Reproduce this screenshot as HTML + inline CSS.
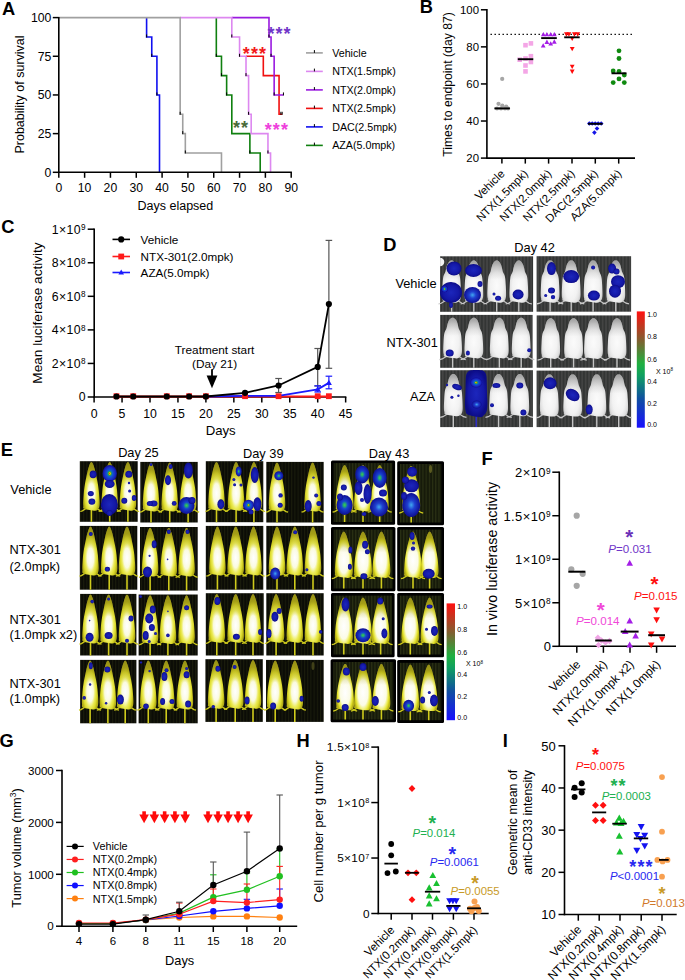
<!DOCTYPE html>
<html><head><meta charset="utf-8"><style>
html,body{margin:0;padding:0;background:#fff;}
svg{display:block;}
text{font-family:"Liberation Sans", sans-serif;}
</style></head><body>
<svg width="685" height="980" viewBox="0 0 685 980">
<rect x="0" y="0" width="685" height="980" fill="#fff"/>
<text x="2.1" y="14.7" font-size="18.3" text-anchor="start" fill="#000" font-weight="bold">A</text>
<polyline points="246.01,56.27 263.31,56.27 263.31,56.27 263.31,56.27 263.31,75.61 279.06,75.61 279.06,75.61 279.06,75.61 279.06,114.29 282.16,114.29 282.16,114.29" fill="none" stroke="#f01010" stroke-width="1.6"/>
<polyline points="231.81,17.60 268.99,17.60 268.99,17.60 268.99,17.60 268.99,36.94 271.06,36.94 271.06,36.94 271.06,36.94 271.06,56.27 274.16,56.27 274.16,56.27 274.16,56.27 274.16,94.95 283.45,94.95 283.45,94.95" fill="none" stroke="#9a1ae0" stroke-width="1.6"/>
<polyline points="216.32,17.60 216.32,17.60 216.32,17.60 216.32,17.60 216.32,56.27 221.48,56.27 221.48,56.27 221.48,56.27 221.48,75.61 226.64,75.61 226.64,75.61 226.64,75.61 226.64,94.95 231.81,94.95 231.81,94.95 231.81,94.95 231.81,133.62 249.88,133.62 249.88,133.62 249.88,133.62 249.88,152.96 260.21,152.96 260.21,152.96 260.21,152.96 260.21,172.30" fill="none" stroke="#108010" stroke-width="1.6"/>
<polyline points="180.16,17.60 231.81,17.60 231.81,17.60 231.81,17.60 231.81,36.94 239.56,36.94 239.56,36.94 239.56,36.94 239.56,56.27 246.01,56.27 246.01,56.27 246.01,56.27 246.01,75.61 248.59,75.61 248.59,75.61 248.59,75.61 248.59,114.29 251.18,114.29 251.18,114.29 251.18,114.29 251.18,133.62 267.96,133.62 267.96,133.62 267.96,133.62 267.96,152.96 270.54,152.96 270.54,152.96 270.54,152.96 270.54,172.30" fill="none" stroke="#dd88f0" stroke-width="1.6"/>
<polyline points="146.60,17.60 146.60,17.60 146.60,17.60 146.60,17.60 146.60,36.94 151.76,36.94 151.76,36.94 151.76,36.94 151.76,56.27 156.92,56.27 156.92,56.27 156.92,56.27 156.92,94.95 159.51,94.95 159.51,94.95 159.51,94.95 159.51,172.30" fill="none" stroke="#1010f0" stroke-width="1.6"/>
<polyline points="58.80,17.60 180.16,17.60 180.16,17.60 180.16,17.60 180.16,114.29 182.75,114.29 182.75,114.29 182.75,114.29 182.75,133.62 185.33,133.62 185.33,133.62 185.33,133.62 185.33,152.96 221.48,152.96 221.48,152.96 221.48,152.96 221.48,172.30" fill="none" stroke="#a0a0a0" stroke-width="1.6"/>
<line x1="180.16" y1="111.79" x2="180.16" y2="114.79" stroke="#000" stroke-width="1.0"/>
<line x1="182.75" y1="131.12" x2="182.75" y2="134.12" stroke="#000" stroke-width="1.0"/>
<line x1="185.33" y1="150.46" x2="185.33" y2="153.46" stroke="#000" stroke-width="1.0"/>
<line x1="146.60" y1="34.44" x2="146.60" y2="37.44" stroke="#000" stroke-width="1.0"/>
<line x1="151.76" y1="53.77" x2="151.76" y2="56.77" stroke="#000" stroke-width="1.0"/>
<line x1="156.92" y1="92.45" x2="156.92" y2="95.45" stroke="#000" stroke-width="1.0"/>
<line x1="216.32" y1="53.77" x2="216.32" y2="56.77" stroke="#000" stroke-width="1.0"/>
<line x1="221.48" y1="73.11" x2="221.48" y2="76.11" stroke="#000" stroke-width="1.0"/>
<line x1="226.64" y1="92.45" x2="226.64" y2="95.45" stroke="#000" stroke-width="1.0"/>
<line x1="249.88" y1="150.46" x2="249.88" y2="153.46" stroke="#000" stroke-width="1.0"/>
<line x1="231.81" y1="34.44" x2="231.81" y2="37.44" stroke="#000" stroke-width="1.0"/>
<line x1="239.56" y1="53.77" x2="239.56" y2="56.77" stroke="#000" stroke-width="1.0"/>
<line x1="246.01" y1="73.11" x2="246.01" y2="76.11" stroke="#000" stroke-width="1.0"/>
<line x1="248.59" y1="111.79" x2="248.59" y2="114.79" stroke="#000" stroke-width="1.0"/>
<line x1="267.96" y1="150.46" x2="267.96" y2="153.46" stroke="#000" stroke-width="1.0"/>
<line x1="268.99" y1="34.44" x2="268.99" y2="37.44" stroke="#000" stroke-width="1.0"/>
<line x1="271.06" y1="53.77" x2="271.06" y2="56.77" stroke="#000" stroke-width="1.0"/>
<line x1="274.16" y1="92.45" x2="274.16" y2="95.45" stroke="#000" stroke-width="1.0"/>
<line x1="283.45" y1="92.45" x2="283.45" y2="95.45" stroke="#000" stroke-width="1.0"/>
<line x1="282.16" y1="111.79" x2="282.16" y2="114.79" stroke="#000" stroke-width="1.0"/>
<line x1="280.87" y1="111.79" x2="280.87" y2="114.79" stroke="#000" stroke-width="1.0"/>
<line x1="58.80" y1="16.90" x2="58.80" y2="173.00" stroke="#000" stroke-width="1.6"/>
<line x1="58.10" y1="172.30" x2="291.90" y2="172.30" stroke="#000" stroke-width="1.6"/>
<line x1="52.80" y1="172.30" x2="58.80" y2="172.30" stroke="#000" stroke-width="1.5"/>
<text x="51.3" y="176.7" font-size="12.2" text-anchor="end" fill="#000">0</text>
<line x1="52.80" y1="133.62" x2="58.80" y2="133.62" stroke="#000" stroke-width="1.5"/>
<text x="51.3" y="138.0" font-size="12.2" text-anchor="end" fill="#000">25</text>
<line x1="52.80" y1="94.95" x2="58.80" y2="94.95" stroke="#000" stroke-width="1.5"/>
<text x="51.3" y="99.4" font-size="12.2" text-anchor="end" fill="#000">50</text>
<line x1="52.80" y1="56.27" x2="58.80" y2="56.27" stroke="#000" stroke-width="1.5"/>
<text x="51.3" y="60.7" font-size="12.2" text-anchor="end" fill="#000">75</text>
<line x1="52.80" y1="17.60" x2="58.80" y2="17.60" stroke="#000" stroke-width="1.5"/>
<text x="51.3" y="22.0" font-size="12.2" text-anchor="end" fill="#000">100</text>
<line x1="58.80" y1="172.30" x2="58.80" y2="177.80" stroke="#000" stroke-width="1.5"/>
<text x="58.8" y="191.9" font-size="12.2" text-anchor="middle" fill="#000">0</text>
<line x1="84.62" y1="172.30" x2="84.62" y2="177.80" stroke="#000" stroke-width="1.5"/>
<text x="84.6" y="191.9" font-size="12.2" text-anchor="middle" fill="#000">10</text>
<line x1="110.44" y1="172.30" x2="110.44" y2="177.80" stroke="#000" stroke-width="1.5"/>
<text x="110.4" y="191.9" font-size="12.2" text-anchor="middle" fill="#000">20</text>
<line x1="136.27" y1="172.30" x2="136.27" y2="177.80" stroke="#000" stroke-width="1.5"/>
<text x="136.3" y="191.9" font-size="12.2" text-anchor="middle" fill="#000">30</text>
<line x1="162.09" y1="172.30" x2="162.09" y2="177.80" stroke="#000" stroke-width="1.5"/>
<text x="162.1" y="191.9" font-size="12.2" text-anchor="middle" fill="#000">40</text>
<line x1="187.91" y1="172.30" x2="187.91" y2="177.80" stroke="#000" stroke-width="1.5"/>
<text x="187.9" y="191.9" font-size="12.2" text-anchor="middle" fill="#000">50</text>
<line x1="213.73" y1="172.30" x2="213.73" y2="177.80" stroke="#000" stroke-width="1.5"/>
<text x="213.7" y="191.9" font-size="12.2" text-anchor="middle" fill="#000">60</text>
<line x1="239.56" y1="172.30" x2="239.56" y2="177.80" stroke="#000" stroke-width="1.5"/>
<text x="239.6" y="191.9" font-size="12.2" text-anchor="middle" fill="#000">70</text>
<line x1="265.38" y1="172.30" x2="265.38" y2="177.80" stroke="#000" stroke-width="1.5"/>
<text x="265.4" y="191.9" font-size="12.2" text-anchor="middle" fill="#000">80</text>
<line x1="291.20" y1="172.30" x2="291.20" y2="177.80" stroke="#000" stroke-width="1.5"/>
<text x="291.2" y="191.9" font-size="12.2" text-anchor="middle" fill="#000">90</text>
<text x="175.4" y="210.2" font-size="12.5" text-anchor="middle" fill="#000">Days elapsed</text>
<text x="23.5" y="94.5" font-size="12.5" text-anchor="middle" fill="#000" transform="rotate(-90 23.5 94.5)">Probability of survival</text>
<text x="267.4" y="39.8" font-size="18" text-anchor="start" fill="#7036c8" font-weight="bold" letter-spacing="1.1">***</text>
<text x="242.8" y="60.0" font-size="18" text-anchor="start" fill="#f21a1a" font-weight="bold" letter-spacing="1.1">***</text>
<text x="233.0" y="134.3" font-size="18" text-anchor="start" fill="#4a6a3a" font-weight="bold" letter-spacing="1.1">**</text>
<text x="264.7" y="135.5" font-size="18" text-anchor="start" fill="#ee40dc" font-weight="bold" letter-spacing="1.1">***</text>
<line x1="306.00" y1="52.90" x2="322.80" y2="52.90" stroke="#a0a0a0" stroke-width="1.6"/>
<line x1="314.40" y1="50.10" x2="314.40" y2="52.90" stroke="#000" stroke-width="1.0"/>
<text x="332.2" y="56.7" font-size="10.7" text-anchor="start" fill="#000">Vehicle</text>
<line x1="306.00" y1="71.40" x2="322.80" y2="71.40" stroke="#dd88f0" stroke-width="1.6"/>
<line x1="314.40" y1="68.60" x2="314.40" y2="71.40" stroke="#000" stroke-width="1.0"/>
<text x="332.2" y="75.2" font-size="10.7" text-anchor="start" fill="#000">NTX(1.5mpk)</text>
<line x1="306.00" y1="89.90" x2="322.80" y2="89.90" stroke="#9a1ae0" stroke-width="1.6"/>
<line x1="314.40" y1="87.10" x2="314.40" y2="89.90" stroke="#000" stroke-width="1.0"/>
<text x="332.2" y="93.7" font-size="10.7" text-anchor="start" fill="#000">NTX(2.0mpk)</text>
<line x1="306.00" y1="108.40" x2="322.80" y2="108.40" stroke="#f01010" stroke-width="1.6"/>
<line x1="314.40" y1="105.60" x2="314.40" y2="108.40" stroke="#000" stroke-width="1.0"/>
<text x="332.2" y="112.2" font-size="10.7" text-anchor="start" fill="#000">NTX(2.5mpk)</text>
<line x1="306.00" y1="126.90" x2="322.80" y2="126.90" stroke="#1010f0" stroke-width="1.6"/>
<line x1="314.40" y1="124.10" x2="314.40" y2="126.90" stroke="#000" stroke-width="1.0"/>
<text x="332.2" y="130.7" font-size="10.7" text-anchor="start" fill="#000">DAC(2.5mpk)</text>
<line x1="306.00" y1="145.40" x2="322.80" y2="145.40" stroke="#108010" stroke-width="1.6"/>
<line x1="314.40" y1="142.60" x2="314.40" y2="145.40" stroke="#000" stroke-width="1.0"/>
<text x="332.2" y="149.2" font-size="10.7" text-anchor="start" fill="#000">AZA(5.0mpk)</text>
<text x="419.7" y="12.7" font-size="18.3" text-anchor="start" fill="#000" font-weight="bold">B</text>
<line x1="486.90" y1="9.08" x2="486.90" y2="158.80" stroke="#000" stroke-width="1.6"/>
<line x1="486.20" y1="158.10" x2="635.00" y2="158.10" stroke="#000" stroke-width="1.6"/>
<line x1="480.90" y1="158.10" x2="486.90" y2="158.10" stroke="#000" stroke-width="1.5"/>
<text x="479.0" y="162.1" font-size="11.4" text-anchor="end" fill="#000">20</text>
<line x1="480.90" y1="121.02" x2="486.90" y2="121.02" stroke="#000" stroke-width="1.5"/>
<text x="479.0" y="125.0" font-size="11.4" text-anchor="end" fill="#000">40</text>
<line x1="480.90" y1="83.94" x2="486.90" y2="83.94" stroke="#000" stroke-width="1.5"/>
<text x="479.0" y="87.9" font-size="11.4" text-anchor="end" fill="#000">60</text>
<line x1="480.90" y1="46.86" x2="486.90" y2="46.86" stroke="#000" stroke-width="1.5"/>
<text x="479.0" y="50.9" font-size="11.4" text-anchor="end" fill="#000">80</text>
<line x1="480.90" y1="9.78" x2="486.90" y2="9.78" stroke="#000" stroke-width="1.5"/>
<text x="479.0" y="13.8" font-size="11.4" text-anchor="end" fill="#000">100</text>
<line x1="501.90" y1="158.10" x2="501.90" y2="163.60" stroke="#000" stroke-width="1.5"/>
<text x="505.4" y="174.4" font-size="11.4" text-anchor="end" fill="#000" transform="rotate(-45 505.4 174.4)">Vehicle</text>
<line x1="525.30" y1="158.10" x2="525.30" y2="163.60" stroke="#000" stroke-width="1.5"/>
<text x="528.8" y="174.4" font-size="11.4" text-anchor="end" fill="#000" transform="rotate(-45 528.8 174.4)">NTX(1.5mpk)</text>
<line x1="548.60" y1="158.10" x2="548.60" y2="163.60" stroke="#000" stroke-width="1.5"/>
<text x="552.1" y="174.4" font-size="11.4" text-anchor="end" fill="#000" transform="rotate(-45 552.1 174.4)">NTX(2.0mpk)</text>
<line x1="572.00" y1="158.10" x2="572.00" y2="163.60" stroke="#000" stroke-width="1.5"/>
<text x="575.5" y="174.4" font-size="11.4" text-anchor="end" fill="#000" transform="rotate(-45 575.5 174.4)">NTX(2.5mpk)</text>
<line x1="595.30" y1="158.10" x2="595.30" y2="163.60" stroke="#000" stroke-width="1.5"/>
<text x="598.8" y="174.4" font-size="11.4" text-anchor="end" fill="#000" transform="rotate(-45 598.8 174.4)">DAC(2.5mpk)</text>
<line x1="618.70" y1="158.10" x2="618.70" y2="163.60" stroke="#000" stroke-width="1.5"/>
<text x="622.2" y="174.4" font-size="11.4" text-anchor="end" fill="#000" transform="rotate(-45 622.2 174.4)">AZA(5.0mpk)</text>
<line x1="490.50" y1="34.30" x2="634.20" y2="34.30" stroke="#000" stroke-width="1.3" stroke-dasharray="1.4,2.6"/>
<text x="452.3" y="84.5" font-size="12.2" text-anchor="middle" fill="#000" transform="rotate(-90 452.3 84.5)">Times to endpoint (day 87)</text>
<circle cx="502.20" cy="78.90" r="2.1" fill="#a6a6a6"/>
<circle cx="498.50" cy="103.80" r="2.1" fill="#a6a6a6"/>
<circle cx="502.30" cy="105.50" r="2.1" fill="#a6a6a6"/>
<circle cx="506.20" cy="106.60" r="2.1" fill="#a6a6a6"/>
<circle cx="497.00" cy="108.50" r="2.1" fill="#a6a6a6"/>
<circle cx="501.00" cy="108.50" r="2.1" fill="#a6a6a6"/>
<circle cx="505.00" cy="108.50" r="2.1" fill="#a6a6a6"/>
<circle cx="508.00" cy="108.50" r="2.1" fill="#a6a6a6"/>
<line x1="494.40" y1="108.40" x2="509.90" y2="108.40" stroke="#000" stroke-width="1.9"/>
<rect x="523.20" y="42.90" width="4.60" height="4.60" fill="#f4a6e6"/>
<rect x="528.60" y="41.10" width="4.60" height="4.60" fill="#f4a6e6"/>
<rect x="517.40" y="57.40" width="4.60" height="4.60" fill="#f4a6e6"/>
<rect x="523.20" y="56.20" width="4.60" height="4.60" fill="#f4a6e6"/>
<rect x="528.60" y="53.90" width="4.60" height="4.60" fill="#f4a6e6"/>
<rect x="528.60" y="59.70" width="4.60" height="4.60" fill="#f4a6e6"/>
<rect x="523.20" y="63.20" width="4.60" height="4.60" fill="#f4a6e6"/>
<rect x="523.20" y="69.10" width="4.60" height="4.60" fill="#f4a6e6"/>
<line x1="517.80" y1="59.20" x2="533.30" y2="59.20" stroke="#000" stroke-width="1.9"/>
<polygon points="543.40,31.91 545.80,36.23 541.00,36.23" fill="#a41ee6"/>
<polygon points="546.90,31.91 549.30,36.23 544.50,36.23" fill="#a41ee6"/>
<polygon points="550.70,31.91 553.10,36.23 548.30,36.23" fill="#a41ee6"/>
<polygon points="554.30,31.91 556.70,36.23 551.90,36.23" fill="#a41ee6"/>
<polygon points="546.90,39.61 549.30,43.93 544.50,43.93" fill="#a41ee6"/>
<polygon points="554.30,39.31 556.70,43.63 551.90,43.63" fill="#a41ee6"/>
<polygon points="550.70,41.21 553.10,45.53 548.30,45.53" fill="#a41ee6"/>
<polygon points="543.20,43.21 545.60,47.53 540.80,47.53" fill="#a41ee6"/>
<line x1="541.20" y1="38.10" x2="556.80" y2="38.10" stroke="#000" stroke-width="1.9"/>
<polygon points="566.40,36.69 568.80,32.37 564.00,32.37" fill="#ff0a0a"/>
<polygon points="568.90,36.69 571.30,32.37 566.50,32.37" fill="#ff0a0a"/>
<polygon points="574.40,36.69 576.80,32.37 572.00,32.37" fill="#ff0a0a"/>
<polygon points="577.70,36.69 580.10,32.37 575.30,32.37" fill="#ff0a0a"/>
<polygon points="572.20,41.09 574.60,36.77 569.80,36.77" fill="#ff0a0a"/>
<polygon points="572.20,51.29 574.60,46.97 569.80,46.97" fill="#ff0a0a"/>
<polygon points="572.20,69.09 574.60,64.77 569.80,64.77" fill="#ff0a0a"/>
<polygon points="572.20,73.89 574.60,69.57 569.80,69.57" fill="#ff0a0a"/>
<line x1="564.20" y1="37.30" x2="579.70" y2="37.30" stroke="#000" stroke-width="1.9"/>
<polygon points="589.30,121.20 591.60,123.50 589.30,125.80 587.00,123.50" fill="#1414e6"/>
<polygon points="592.20,121.20 594.50,123.50 592.20,125.80 589.90,123.50" fill="#1414e6"/>
<polygon points="595.20,121.20 597.50,123.50 595.20,125.80 592.90,123.50" fill="#1414e6"/>
<polygon points="598.20,121.20 600.50,123.50 598.20,125.80 595.90,123.50" fill="#1414e6"/>
<polygon points="601.20,121.20 603.50,123.50 601.20,125.80 598.90,123.50" fill="#1414e6"/>
<polygon points="597.00,126.20 599.30,128.50 597.00,130.80 594.70,128.50" fill="#1414e6"/>
<polygon points="594.40,130.30 596.70,132.60 594.40,134.90 592.10,132.60" fill="#1414e6"/>
<line x1="588.00" y1="123.80" x2="602.60" y2="123.80" stroke="#000" stroke-width="1.9"/>
<circle cx="619.00" cy="50.80" r="2.4" fill="#108a10"/>
<circle cx="619.00" cy="58.50" r="2.4" fill="#108a10"/>
<circle cx="613.20" cy="71.00" r="2.4" fill="#108a10"/>
<circle cx="619.00" cy="71.40" r="2.4" fill="#108a10"/>
<circle cx="624.30" cy="75.00" r="2.4" fill="#108a10"/>
<circle cx="613.20" cy="82.60" r="2.4" fill="#108a10"/>
<circle cx="619.00" cy="78.90" r="2.4" fill="#108a10"/>
<circle cx="624.30" cy="82.60" r="2.4" fill="#108a10"/>
<line x1="611.50" y1="73.30" x2="626.50" y2="73.30" stroke="#000" stroke-width="1.9"/>
<text x="1.2" y="232.6" font-size="18.3" text-anchor="start" fill="#000" font-weight="bold">C</text>
<line x1="94.20" y1="228.50" x2="94.20" y2="397.70" stroke="#000" stroke-width="1.6"/>
<line x1="93.50" y1="397.00" x2="346.35" y2="397.00" stroke="#000" stroke-width="1.6"/>
<line x1="87.70" y1="229.20" x2="94.20" y2="229.20" stroke="#000" stroke-width="1.5"/>
<text x="85.8" y="233.6" font-size="12.3" text-anchor="end" fill="#000" letter-spacing="0.35">1×10<tspan font-size="8.2" dy="-3.5">9</tspan></text>
<line x1="87.70" y1="262.76" x2="94.20" y2="262.76" stroke="#000" stroke-width="1.5"/>
<text x="85.8" y="267.2" font-size="12.3" text-anchor="end" fill="#000" letter-spacing="0.35">8×10<tspan font-size="8.2" dy="-3.5">8</tspan></text>
<line x1="87.70" y1="296.32" x2="94.20" y2="296.32" stroke="#000" stroke-width="1.5"/>
<text x="85.8" y="300.7" font-size="12.3" text-anchor="end" fill="#000" letter-spacing="0.35">6×10<tspan font-size="8.2" dy="-3.5">8</tspan></text>
<line x1="87.70" y1="329.88" x2="94.20" y2="329.88" stroke="#000" stroke-width="1.5"/>
<text x="85.8" y="334.3" font-size="12.3" text-anchor="end" fill="#000" letter-spacing="0.35">4×10<tspan font-size="8.2" dy="-3.5">8</tspan></text>
<line x1="87.70" y1="363.44" x2="94.20" y2="363.44" stroke="#000" stroke-width="1.5"/>
<text x="85.8" y="367.8" font-size="12.3" text-anchor="end" fill="#000" letter-spacing="0.35">2×10<tspan font-size="8.2" dy="-3.5">8</tspan></text>
<line x1="87.70" y1="397.00" x2="94.20" y2="397.00" stroke="#000" stroke-width="1.5"/>
<text x="85.5" y="401.4" font-size="12.3" text-anchor="end" fill="#000">0</text>
<line x1="94.10" y1="397.00" x2="94.10" y2="402.50" stroke="#000" stroke-width="1.5"/>
<text x="94.1" y="418.2" font-size="12.3" text-anchor="middle" fill="#000">0</text>
<line x1="122.05" y1="397.00" x2="122.05" y2="402.50" stroke="#000" stroke-width="1.5"/>
<text x="122.0" y="418.2" font-size="12.3" text-anchor="middle" fill="#000">5</text>
<line x1="150.00" y1="397.00" x2="150.00" y2="402.50" stroke="#000" stroke-width="1.5"/>
<text x="150.0" y="418.2" font-size="12.3" text-anchor="middle" fill="#000">10</text>
<line x1="177.95" y1="397.00" x2="177.95" y2="402.50" stroke="#000" stroke-width="1.5"/>
<text x="177.9" y="418.2" font-size="12.3" text-anchor="middle" fill="#000">15</text>
<line x1="205.90" y1="397.00" x2="205.90" y2="402.50" stroke="#000" stroke-width="1.5"/>
<text x="205.9" y="418.2" font-size="12.3" text-anchor="middle" fill="#000">20</text>
<line x1="233.85" y1="397.00" x2="233.85" y2="402.50" stroke="#000" stroke-width="1.5"/>
<text x="233.8" y="418.2" font-size="12.3" text-anchor="middle" fill="#000">25</text>
<line x1="261.80" y1="397.00" x2="261.80" y2="402.50" stroke="#000" stroke-width="1.5"/>
<text x="261.8" y="418.2" font-size="12.3" text-anchor="middle" fill="#000">30</text>
<line x1="289.75" y1="397.00" x2="289.75" y2="402.50" stroke="#000" stroke-width="1.5"/>
<text x="289.8" y="418.2" font-size="12.3" text-anchor="middle" fill="#000">35</text>
<line x1="317.70" y1="397.00" x2="317.70" y2="402.50" stroke="#000" stroke-width="1.5"/>
<text x="317.7" y="418.2" font-size="12.3" text-anchor="middle" fill="#000">40</text>
<line x1="345.65" y1="397.00" x2="345.65" y2="402.50" stroke="#000" stroke-width="1.5"/>
<text x="345.6" y="418.2" font-size="12.3" text-anchor="middle" fill="#000">45</text>
<text x="220.7" y="435.3" font-size="13.2" text-anchor="middle" fill="#000">Days</text>
<text x="42.2" y="313.0" font-size="13.6" text-anchor="middle" fill="#000" transform="rotate(-90 42.2 313.0)">Mean luciferase activity</text>
<line x1="328.88" y1="240.40" x2="328.88" y2="368.30" stroke="#555" stroke-width="1.2"/>
<line x1="325.58" y1="240.40" x2="332.18" y2="240.40" stroke="#555" stroke-width="1.2"/>
<line x1="325.58" y1="368.30" x2="332.18" y2="368.30" stroke="#555" stroke-width="1.2"/>
<line x1="317.70" y1="348.50" x2="317.70" y2="386.00" stroke="#555" stroke-width="1.2"/>
<line x1="314.40" y1="348.50" x2="321.00" y2="348.50" stroke="#555" stroke-width="1.2"/>
<line x1="314.40" y1="386.00" x2="321.00" y2="386.00" stroke="#555" stroke-width="1.2"/>
<line x1="278.57" y1="378.50" x2="278.57" y2="392.50" stroke="#555" stroke-width="1.2"/>
<line x1="275.27" y1="378.50" x2="281.87" y2="378.50" stroke="#555" stroke-width="1.2"/>
<line x1="275.27" y1="392.50" x2="281.87" y2="392.50" stroke="#555" stroke-width="1.2"/>
<line x1="328.88" y1="376.20" x2="328.88" y2="388.80" stroke="#1a1aff" stroke-width="1.2"/>
<line x1="325.58" y1="376.20" x2="332.18" y2="376.20" stroke="#1a1aff" stroke-width="1.2"/>
<line x1="325.58" y1="388.80" x2="332.18" y2="388.80" stroke="#1a1aff" stroke-width="1.2"/>
<line x1="317.70" y1="385.80" x2="317.70" y2="392.00" stroke="#1a1aff" stroke-width="1.2"/>
<line x1="314.40" y1="385.80" x2="321.00" y2="385.80" stroke="#1a1aff" stroke-width="1.2"/>
<line x1="314.40" y1="392.00" x2="321.00" y2="392.00" stroke="#1a1aff" stroke-width="1.2"/>
<polyline points="116.46,396.50 133.23,396.50 166.77,396.50 189.13,396.50 205.90,396.50 245.03,396.50 278.57,396.50 317.70,396.50 328.88,396.50" fill="none" stroke="#ff1a1a" stroke-width="1.8"/>
<polyline points="205.90,396.50 245.03,395.80 278.57,395.80 317.70,389.30 328.88,382.90" fill="none" stroke="#1a1aff" stroke-width="1.8"/>
<polyline points="116.46,396.50 133.23,396.50 166.77,396.50 189.13,396.50 205.90,396.50 245.03,392.80 278.57,385.50 317.70,366.90 328.88,304.10" fill="none" stroke="#000" stroke-width="1.8"/>
<rect x="242.13" y="393.30" width="5.80" height="5.80" fill="#ff1a1a"/>
<rect x="275.67" y="393.30" width="5.80" height="5.80" fill="#ff1a1a"/>
<rect x="314.80" y="393.30" width="5.80" height="5.80" fill="#ff1a1a"/>
<rect x="325.98" y="393.30" width="5.80" height="5.80" fill="#ff1a1a"/>
<polygon points="317.70,386.06 320.70,391.46 314.70,391.46" fill="#1a1aff"/>
<polygon points="328.88,379.66 331.88,385.06 325.88,385.06" fill="#1a1aff"/>
<rect x="113.56" y="393.30" width="5.80" height="5.80" fill="#ff1a1a"/>
<circle cx="116.46" cy="396.50" r="3.1" fill="#000"/>
<rect x="130.33" y="393.30" width="5.80" height="5.80" fill="#ff1a1a"/>
<circle cx="133.23" cy="396.50" r="3.1" fill="#000"/>
<rect x="163.87" y="393.30" width="5.80" height="5.80" fill="#ff1a1a"/>
<circle cx="166.77" cy="396.50" r="3.1" fill="#000"/>
<rect x="186.23" y="393.30" width="5.80" height="5.80" fill="#ff1a1a"/>
<circle cx="189.13" cy="396.50" r="3.1" fill="#000"/>
<rect x="203.00" y="393.30" width="5.80" height="5.80" fill="#ff1a1a"/>
<circle cx="205.90" cy="396.50" r="3.1" fill="#000"/>
<circle cx="245.03" cy="392.80" r="3.1" fill="#000"/>
<circle cx="278.57" cy="385.50" r="3.1" fill="#000"/>
<circle cx="317.70" cy="366.90" r="3.1" fill="#000"/>
<circle cx="328.88" cy="304.10" r="3.1" fill="#000"/>
<line x1="212.00" y1="369.50" x2="212.00" y2="378.00" stroke="#000" stroke-width="1.8"/>
<polygon points="206.6,375.5 217.4,375.5 212,388.2" fill="#000"/>
<text x="214.6" y="354.2" font-size="11.8" text-anchor="middle" fill="#000">Treatment start</text>
<text x="214.6" y="367.8" font-size="11.8" text-anchor="middle" fill="#000">(Day 21)</text>
<line x1="112.50" y1="239.40" x2="130.00" y2="239.40" stroke="#000" stroke-width="1.6"/>
<circle cx="121.20" cy="239.40" r="3.1" fill="#000"/>
<line x1="112.50" y1="256.50" x2="130.00" y2="256.50" stroke="#ff1a1a" stroke-width="1.6"/>
<rect x="118.30" y="253.60" width="5.80" height="5.80" fill="#ff1a1a"/>
<line x1="112.50" y1="272.50" x2="130.00" y2="272.50" stroke="#1a1aff" stroke-width="1.6"/>
<polygon points="121.20,269.48 124.00,274.52 118.40,274.52" fill="#1a1aff"/>
<text x="140.6" y="243.5" font-size="11.7" text-anchor="start" fill="#000">Vehicle</text>
<text x="140.6" y="260.6" font-size="11.7" text-anchor="start" fill="#000">NTX-301(2.0mpk)</text>
<text x="140.6" y="276.6" font-size="11.7" text-anchor="start" fill="#000">AZA(5.0mpk)</text>
<defs>
<pattern id="stripeE" width="3.2" height="10" patternUnits="userSpaceOnUse"><rect width="3.2" height="10" fill="#0b0c06"/><rect width="1" height="10" fill="#1a1c0c"/></pattern>
<pattern id="stripeE43" width="3.2" height="10" patternUnits="userSpaceOnUse"><rect width="3.2" height="10" fill="#161a0a"/><rect width="1.1" height="10" fill="#2a3014"/></pattern>
<pattern id="stripeD" width="3.4" height="10" patternUnits="userSpaceOnUse"><rect width="3.4" height="10" fill="#333534"/><rect width="1.6" height="10" fill="#444444"/></pattern>
<radialGradient id="mE" cx="0.5" cy="0.64" r="0.5"><stop offset="0" stop-color="#ffffff"/><stop offset="0.4" stop-color="#fafae0"/><stop offset="0.62" stop-color="#ecec5c"/><stop offset="0.82" stop-color="#dcda2c"/><stop offset="1" stop-color="#b4ae18"/></radialGradient>
<radialGradient id="mE43" cx="0.5" cy="0.62" r="0.5"><stop offset="0" stop-color="#ffffff"/><stop offset="0.55" stop-color="#fbfbe6"/><stop offset="0.72" stop-color="#f0f078"/><stop offset="0.87" stop-color="#e0de26"/><stop offset="1" stop-color="#b8b218"/></radialGradient>
<linearGradient id="mEhead" x1="0" y1="0" x2="0" y2="1"><stop offset="0" stop-color="#8a8414" stop-opacity="0.75"/><stop offset="0.3" stop-color="#a09a18" stop-opacity="0.25"/><stop offset="0.45" stop-color="#a09a18" stop-opacity="0"/></linearGradient>
<linearGradient id="mDhead" x1="0" y1="0" x2="0" y2="1"><stop offset="0" stop-color="#909090" stop-opacity="0.7"/><stop offset="0.3" stop-color="#a0a0a0" stop-opacity="0.2"/><stop offset="0.45" stop-color="#a0a0a0" stop-opacity="0"/></linearGradient>
<radialGradient id="mD" cx="0.5" cy="0.6" r="0.55"><stop offset="0" stop-color="#fbfbfb"/><stop offset="0.6" stop-color="#f2f2f2"/><stop offset="0.85" stop-color="#e2e2e2"/><stop offset="1" stop-color="#cacaca"/></radialGradient>
<radialGradient id="bB"><stop offset="0" stop-color="#1c26bc"/><stop offset="0.7" stop-color="#1418a6"/><stop offset="1" stop-color="#0c0c86"/></radialGradient>
<radialGradient id="bHot"><stop offset="0" stop-color="#ff1a00"/><stop offset="0.1" stop-color="#f0c000"/><stop offset="0.2" stop-color="#30b030"/><stop offset="0.36" stop-color="#1060d0"/><stop offset="0.75" stop-color="#1a28c4"/><stop offset="1" stop-color="#0e0e92"/></radialGradient>
<radialGradient id="bGrn"><stop offset="0" stop-color="#40d040"/><stop offset="0.18" stop-color="#20a080"/><stop offset="0.4" stop-color="#1840d0"/><stop offset="1" stop-color="#0e0e92"/></radialGradient>
<radialGradient id="bCyan"><stop offset="0" stop-color="#40a8f0"/><stop offset="0.4" stop-color="#2040d0"/><stop offset="1" stop-color="#0e0e92"/></radialGradient>
<filter id="soft" x="-20%" y="-20%" width="140%" height="140%"><feGaussianBlur stdDeviation="0.35"/></filter>
</defs>
<defs><path id="mpE" d="M0.0800,0.0000 C0.1267,0.0067 0.1583,0.0233 0.2000,0.0400 C0.2417,0.0567 0.2867,0.0767 0.3300,0.1000 C0.3733,0.1233 0.4183,0.1517 0.4600,0.1800 C0.5017,0.2083 0.5417,0.2400 0.5800,0.2700 C0.6183,0.3000 0.6533,0.3283 0.6900,0.3600 C0.7267,0.3917 0.7650,0.4233 0.8000,0.4600 C0.8350,0.4967 0.8717,0.5367 0.9000,0.5800 C0.9283,0.6233 0.9533,0.6800 0.9700,0.7200 C0.9867,0.7600 0.9983,0.7900 1.0000,0.8200 C1.0017,0.8500 1.0033,0.8767 0.9800,0.9000 C0.9567,0.9233 0.9483,0.9433 0.8600,0.9600 C0.7717,0.9767 0.7367,1.0000 0.4500,1.0000 C0.1633,1.0000 -0.6217,0.9767 -0.8600,0.9600 C-1.0983,0.9433 -0.9567,0.9233 -0.9800,0.9000 C-1.0033,0.8767 -1.0017,0.8500 -1.0000,0.8200 C-0.9983,0.7900 -0.9867,0.7600 -0.9700,0.7200 C-0.9533,0.6800 -0.9283,0.6233 -0.9000,0.5800 C-0.8717,0.5367 -0.8350,0.4967 -0.8000,0.4600 C-0.7650,0.4233 -0.7267,0.3917 -0.6900,0.3600 C-0.6533,0.3283 -0.6183,0.3000 -0.5800,0.2700 C-0.5417,0.2400 -0.5017,0.2083 -0.4600,0.1800 C-0.4183,0.1517 -0.3733,0.1233 -0.3300,0.1000 C-0.2867,0.0767 -0.2417,0.0567 -0.2000,0.0400 C-0.1583,0.0233 -0.1267,0.0067 -0.0800,0.0000 C-0.0333,-0.0067 0.0333,-0.0067 0.0800,0.0000Z"/><path id="mpD" d="M0.1300,0.0000 C0.2050,0.0067 0.2633,0.0233 0.3200,0.0400 C0.3767,0.0567 0.4283,0.0767 0.4700,0.1000 C0.5117,0.1233 0.5400,0.1533 0.5700,0.1800 C0.6000,0.2067 0.6117,0.2350 0.6500,0.2600 C0.6883,0.2850 0.7567,0.3033 0.8000,0.3300 C0.8433,0.3567 0.8817,0.3750 0.9100,0.4200 C0.9383,0.4650 0.9550,0.5367 0.9700,0.6000 C0.9850,0.6633 1.0033,0.7500 1.0000,0.8000 C0.9967,0.8500 0.9833,0.8733 0.9500,0.9000 C0.9167,0.9267 0.8917,0.9433 0.8000,0.9600 C0.7083,0.9767 0.6667,1.0000 0.4000,1.0000 C0.1333,1.0000 -0.5750,0.9767 -0.8000,0.9600 C-1.0250,0.9433 -0.9167,0.9267 -0.9500,0.9000 C-0.9833,0.8733 -0.9967,0.8500 -1.0000,0.8000 C-1.0033,0.7500 -0.9850,0.6633 -0.9700,0.6000 C-0.9550,0.5367 -0.9383,0.4650 -0.9100,0.4200 C-0.8817,0.3750 -0.8433,0.3567 -0.8000,0.3300 C-0.7567,0.3033 -0.6883,0.2850 -0.6500,0.2600 C-0.6117,0.2350 -0.6000,0.2067 -0.5700,0.1800 C-0.5400,0.1533 -0.5117,0.1233 -0.4700,0.1000 C-0.4283,0.0767 -0.3767,0.0567 -0.3200,0.0400 C-0.2633,0.0233 -0.2050,0.0067 -0.1300,0.0000 C-0.0550,-0.0067 0.0550,-0.0067 0.1300,0.0000Z"/></defs>
<text x="0.7" y="455.8" font-size="18.3" text-anchor="start" fill="#000" font-weight="bold">E</text>
<text x="138.4" y="457.2" font-size="12.8" text-anchor="middle" fill="#000">Day 25</text>
<text x="263.3" y="458.1" font-size="12.8" text-anchor="middle" fill="#000">Day 39</text>
<text x="389.0" y="458.1" font-size="12.8" text-anchor="middle" fill="#000">Day 43</text>
<text x="10.3" y="494.3" font-size="12.8" text-anchor="start" fill="#000">Vehicle</text>
<text x="9.6" y="553.6" font-size="12.8" text-anchor="start" fill="#000">NTX-301</text>
<text x="9.6" y="571.1" font-size="12.8" text-anchor="start" fill="#000">(2.0mpk)</text>
<text x="9.6" y="623.7" font-size="12.8" text-anchor="start" fill="#000">NTX-301</text>
<text x="9.6" y="639.1" font-size="12.8" text-anchor="start" fill="#000">(1.0mpk x2)</text>
<text x="9.6" y="687.6" font-size="12.8" text-anchor="start" fill="#000">NTX-301</text>
<text x="9.6" y="702.8" font-size="12.8" text-anchor="start" fill="#000">(1.0mpk)</text>
<rect x="79.80" y="461.20" width="57.90" height="60.60" fill="url(#stripeE)"/>
<line x1="91.40" y1="508.70" x2="91.40" y2="521.80" stroke="#cfcb1c" stroke-width="1.6"/>
<polyline points="86.48,508.20 82.38,510.90 80.33,511.50" fill="none" stroke="#cfcb1c" stroke-width="1.3"/>
<polyline points="96.32,508.20 100.42,510.90 102.47,511.50" fill="none" stroke="#cfcb1c" stroke-width="1.3"/>
<use href="#mpE" transform="translate(91.40 462.40) scale(8.20 48.30)" fill="url(#mE)"/><use href="#mpE" transform="translate(91.40 462.40) scale(8.20 48.30)" fill="url(#mEhead)"/>
<line x1="109.70" y1="508.70" x2="109.70" y2="521.80" stroke="#cfcb1c" stroke-width="1.6"/>
<polyline points="104.78,508.20 100.68,510.90 98.63,511.50" fill="none" stroke="#cfcb1c" stroke-width="1.3"/>
<polyline points="114.62,508.20 118.72,510.90 120.77,511.50" fill="none" stroke="#cfcb1c" stroke-width="1.3"/>
<use href="#mpE" transform="translate(109.70 462.40) scale(8.20 48.30)" fill="url(#mE)"/><use href="#mpE" transform="translate(109.70 462.40) scale(8.20 48.30)" fill="url(#mEhead)"/>
<line x1="127.90" y1="508.70" x2="127.90" y2="521.80" stroke="#cfcb1c" stroke-width="1.6"/>
<polyline points="122.98,508.20 118.88,510.90 116.83,511.50" fill="none" stroke="#cfcb1c" stroke-width="1.3"/>
<polyline points="132.82,508.20 136.92,510.90 138.97,511.50" fill="none" stroke="#cfcb1c" stroke-width="1.3"/>
<use href="#mpE" transform="translate(127.90 462.40) scale(8.20 48.30)" fill="url(#mE)"/><use href="#mpE" transform="translate(127.90 462.40) scale(8.20 48.30)" fill="url(#mEhead)"/>
<ellipse cx="93.10" cy="474.40" rx="3.50" ry="3.80" fill="url(#bB)"/>
<ellipse cx="90.80" cy="493.60" rx="3.00" ry="2.60" fill="url(#bB)"/>
<ellipse cx="91.90" cy="501.60" rx="3.40" ry="3.20" fill="url(#bB)"/>
<ellipse cx="109.70" cy="473.50" rx="7.20" ry="8.50" fill="url(#bHot)"/>
<ellipse cx="109.70" cy="484.00" rx="5.00" ry="4.00" fill="url(#bB)"/>
<ellipse cx="109.40" cy="504.50" rx="8.50" ry="10.50" fill="url(#bB)"/>
<ellipse cx="109.50" cy="513.00" rx="3.00" ry="3.00" fill="url(#bB)"/>
<ellipse cx="128.80" cy="474.20" rx="3.50" ry="3.50" fill="url(#bB)"/>
<ellipse cx="129.60" cy="491.00" rx="1.50" ry="1.50" fill="url(#bB)"/>
<ellipse cx="124.30" cy="500.70" rx="3.00" ry="3.00" fill="url(#bB)"/>
<ellipse cx="134.10" cy="498.00" rx="2.30" ry="3.00" fill="url(#bB)"/>
<ellipse cx="129.00" cy="483.00" rx="1.20" ry="1.20" fill="url(#bB)"/>
<rect x="140.30" y="461.90" width="57.40" height="60.60" fill="url(#stripeE)"/>
<line x1="151.00" y1="509.40" x2="151.00" y2="522.50" stroke="#cfcb1c" stroke-width="1.6"/>
<polyline points="146.08,508.90 141.98,511.60 139.93,512.20" fill="none" stroke="#cfcb1c" stroke-width="1.3"/>
<polyline points="155.92,508.90 160.02,511.60 162.07,512.20" fill="none" stroke="#cfcb1c" stroke-width="1.3"/>
<use href="#mpE" transform="translate(151.00 463.10) scale(8.20 48.30)" fill="url(#mE)"/><use href="#mpE" transform="translate(151.00 463.10) scale(8.20 48.30)" fill="url(#mEhead)"/>
<line x1="169.70" y1="509.40" x2="169.70" y2="522.50" stroke="#cfcb1c" stroke-width="1.6"/>
<polyline points="164.78,508.90 160.68,511.60 158.63,512.20" fill="none" stroke="#cfcb1c" stroke-width="1.3"/>
<polyline points="174.62,508.90 178.72,511.60 180.77,512.20" fill="none" stroke="#cfcb1c" stroke-width="1.3"/>
<use href="#mpE" transform="translate(169.70 463.10) scale(8.20 48.30)" fill="url(#mE)"/><use href="#mpE" transform="translate(169.70 463.10) scale(8.20 48.30)" fill="url(#mEhead)"/>
<line x1="188.10" y1="509.40" x2="188.10" y2="522.50" stroke="#cfcb1c" stroke-width="1.6"/>
<polyline points="183.18,508.90 179.08,511.60 177.03,512.20" fill="none" stroke="#cfcb1c" stroke-width="1.3"/>
<polyline points="193.02,508.90 197.12,511.60 199.17,512.20" fill="none" stroke="#cfcb1c" stroke-width="1.3"/>
<use href="#mpE" transform="translate(188.10 463.10) scale(8.20 48.30)" fill="url(#mE)"/><use href="#mpE" transform="translate(188.10 463.10) scale(8.20 48.30)" fill="url(#mEhead)"/>
<ellipse cx="151.00" cy="464.60" rx="1.50" ry="1.50" fill="url(#bB)"/>
<ellipse cx="153.70" cy="503.40" rx="3.80" ry="3.00" fill="url(#bB)"/>
<ellipse cx="149.80" cy="503.60" rx="3.00" ry="2.50" fill="url(#bB)"/>
<ellipse cx="168.00" cy="480.30" rx="3.00" ry="5.00" fill="url(#bB)"/>
<ellipse cx="174.20" cy="503.40" rx="2.40" ry="2.40" fill="url(#bB)"/>
<ellipse cx="170.60" cy="466.50" rx="2.00" ry="2.50" fill="url(#bB)"/>
<ellipse cx="188.40" cy="470.50" rx="4.50" ry="8.00" fill="url(#bB)"/>
<ellipse cx="186.50" cy="505.50" rx="8.00" ry="8.50" fill="url(#bGrn)"/>
<ellipse cx="192.00" cy="500.50" rx="3.50" ry="3.50" fill="url(#bB)"/>
<rect x="205.80" y="461.20" width="57.50" height="61.00" fill="url(#stripeE)"/>
<line x1="216.50" y1="508.70" x2="216.50" y2="522.20" stroke="#cfcb1c" stroke-width="1.6"/>
<polyline points="211.58,508.20 207.48,510.90 205.43,511.50" fill="none" stroke="#cfcb1c" stroke-width="1.3"/>
<polyline points="221.42,508.20 225.52,510.90 227.57,511.50" fill="none" stroke="#cfcb1c" stroke-width="1.3"/>
<use href="#mpE" transform="translate(216.50 462.40) scale(8.20 48.30)" fill="url(#mE)"/><use href="#mpE" transform="translate(216.50 462.40) scale(8.20 48.30)" fill="url(#mEhead)"/>
<line x1="236.10" y1="508.70" x2="236.10" y2="522.20" stroke="#cfcb1c" stroke-width="1.6"/>
<polyline points="231.18,508.20 227.08,510.90 225.03,511.50" fill="none" stroke="#cfcb1c" stroke-width="1.3"/>
<polyline points="241.02,508.20 245.12,510.90 247.17,511.50" fill="none" stroke="#cfcb1c" stroke-width="1.3"/>
<use href="#mpE" transform="translate(236.10 462.40) scale(8.20 48.30)" fill="url(#mE)"/><use href="#mpE" transform="translate(236.10 462.40) scale(8.20 48.30)" fill="url(#mEhead)"/>
<line x1="253.90" y1="508.70" x2="253.90" y2="522.20" stroke="#cfcb1c" stroke-width="1.6"/>
<polyline points="248.98,508.20 244.88,510.90 242.83,511.50" fill="none" stroke="#cfcb1c" stroke-width="1.3"/>
<polyline points="258.82,508.20 262.92,510.90 264.97,511.50" fill="none" stroke="#cfcb1c" stroke-width="1.3"/>
<use href="#mpE" transform="translate(253.90 462.40) scale(8.20 48.30)" fill="url(#mE)"/><use href="#mpE" transform="translate(253.90 462.40) scale(8.20 48.30)" fill="url(#mEhead)"/>
<ellipse cx="220.90" cy="504.30" rx="3.50" ry="5.00" fill="url(#bB)"/>
<ellipse cx="238.70" cy="471.40" rx="3.00" ry="5.00" fill="url(#bGrn)"/>
<ellipse cx="233.90" cy="479.40" rx="1.50" ry="1.50" fill="url(#bB)"/>
<ellipse cx="234.60" cy="484.70" rx="1.50" ry="1.50" fill="url(#bB)"/>
<ellipse cx="241.00" cy="485.00" rx="1.50" ry="1.50" fill="url(#bB)"/>
<ellipse cx="254.80" cy="475.10" rx="4.00" ry="8.00" fill="url(#bB)"/>
<ellipse cx="248.50" cy="505.20" rx="5.50" ry="5.50" fill="url(#bHot)"/>
<ellipse cx="257.40" cy="504.30" rx="4.00" ry="7.00" fill="url(#bB)"/>
<ellipse cx="251.00" cy="512.00" rx="2.50" ry="2.50" fill="url(#bB)"/>
<rect x="266.30" y="461.90" width="57.40" height="60.60" fill="url(#stripeE)"/>
<line x1="277.00" y1="509.40" x2="277.00" y2="522.50" stroke="#cfcb1c" stroke-width="1.6"/>
<polyline points="272.08,508.90 267.98,511.60 265.93,512.20" fill="none" stroke="#cfcb1c" stroke-width="1.3"/>
<polyline points="281.92,508.90 286.02,511.60 288.07,512.20" fill="none" stroke="#cfcb1c" stroke-width="1.3"/>
<use href="#mpE" transform="translate(277.00 463.10) scale(8.20 48.30)" fill="url(#mE)"/><use href="#mpE" transform="translate(277.00 463.10) scale(8.20 48.30)" fill="url(#mEhead)"/>
<line x1="312.60" y1="509.40" x2="312.60" y2="522.50" stroke="#cfcb1c" stroke-width="1.6"/>
<polyline points="307.68,508.90 303.58,511.60 301.53,512.20" fill="none" stroke="#cfcb1c" stroke-width="1.3"/>
<polyline points="317.52,508.90 321.62,511.60 323.67,512.20" fill="none" stroke="#cfcb1c" stroke-width="1.3"/>
<use href="#mpE" transform="translate(312.60 463.10) scale(8.20 48.30)" fill="url(#mE)"/><use href="#mpE" transform="translate(312.60 463.10) scale(8.20 48.30)" fill="url(#mEhead)"/>
<ellipse cx="278.80" cy="475.80" rx="4.50" ry="4.50" fill="url(#bGrn)"/>
<ellipse cx="280.60" cy="495.40" rx="2.20" ry="2.20" fill="url(#bB)"/>
<ellipse cx="280.20" cy="505.20" rx="2.50" ry="2.50" fill="url(#bB)"/>
<ellipse cx="313.50" cy="477.60" rx="1.20" ry="1.20" fill="url(#bB)"/>
<ellipse cx="316.20" cy="495.40" rx="2.00" ry="2.00" fill="url(#bB)"/>
<ellipse cx="308.20" cy="506.10" rx="3.50" ry="6.00" fill="url(#bB)"/>
<ellipse cx="318.90" cy="503.40" rx="2.50" ry="2.50" fill="url(#bB)"/>
<rect x="331.00" y="460.40" width="64.10" height="64.30" fill="#000" rx="1.5"/>
<rect x="333.70" y="463.10" width="58.70" height="58.90" fill="url(#stripeE43)"/>
<line x1="344.60" y1="509.40" x2="344.60" y2="522.00" stroke="#cfcb1c" stroke-width="1.6"/>
<polyline points="339.26,508.90 334.81,511.60 332.59,512.20" fill="none" stroke="#cfcb1c" stroke-width="1.3"/>
<polyline points="349.94,508.90 354.39,511.60 356.62,512.20" fill="none" stroke="#cfcb1c" stroke-width="1.3"/>
<use href="#mpE" transform="translate(344.60 465.40) scale(8.90 46.00)" fill="url(#mE43)"/><use href="#mpE" transform="translate(344.60 465.40) scale(8.90 46.00)" fill="url(#mEhead)"/>
<line x1="363.00" y1="509.40" x2="363.00" y2="522.00" stroke="#cfcb1c" stroke-width="1.6"/>
<polyline points="357.66,508.90 353.21,511.60 350.99,512.20" fill="none" stroke="#cfcb1c" stroke-width="1.3"/>
<polyline points="368.34,508.90 372.79,511.60 375.01,512.20" fill="none" stroke="#cfcb1c" stroke-width="1.3"/>
<use href="#mpE" transform="translate(363.00 465.40) scale(8.90 46.00)" fill="url(#mE43)"/><use href="#mpE" transform="translate(363.00 465.40) scale(8.90 46.00)" fill="url(#mEhead)"/>
<line x1="379.70" y1="509.40" x2="379.70" y2="522.00" stroke="#cfcb1c" stroke-width="1.6"/>
<polyline points="374.36,508.90 369.91,511.60 367.69,512.20" fill="none" stroke="#cfcb1c" stroke-width="1.3"/>
<polyline points="385.04,508.90 389.49,511.60 391.71,512.20" fill="none" stroke="#cfcb1c" stroke-width="1.3"/>
<use href="#mpE" transform="translate(379.70 465.40) scale(8.90 46.00)" fill="url(#mE43)"/><use href="#mpE" transform="translate(379.70 465.40) scale(8.90 46.00)" fill="url(#mEhead)"/>
<ellipse cx="344.60" cy="505.00" rx="8.00" ry="10.00" fill="url(#bGrn)"/>
<ellipse cx="343.80" cy="487.50" rx="3.00" ry="3.00" fill="url(#bB)"/>
<ellipse cx="340.00" cy="497.00" rx="3.00" ry="3.50" fill="url(#bB)"/>
<ellipse cx="362.20" cy="474.40" rx="7.00" ry="9.00" fill="url(#bGrn)"/>
<ellipse cx="358.50" cy="488.00" rx="4.00" ry="7.00" fill="url(#bB)"/>
<ellipse cx="367.50" cy="494.00" rx="4.00" ry="10.00" fill="url(#bB)"/>
<ellipse cx="362.00" cy="500.00" rx="2.00" ry="2.00" fill="url(#bB)"/>
<ellipse cx="364.00" cy="514.00" rx="2.50" ry="2.00" fill="url(#bB)"/>
<ellipse cx="379.70" cy="477.90" rx="7.00" ry="10.00" fill="url(#bGrn)"/>
<ellipse cx="379.00" cy="507.00" rx="9.00" ry="9.50" fill="url(#bCyan)"/>
<ellipse cx="383.00" cy="493.00" rx="4.00" ry="3.50" fill="url(#bB)"/>
<rect x="397.20" y="461.30" width="46.80" height="63.90" fill="#000" rx="1.5"/>
<rect x="399.90" y="464.00" width="41.40" height="58.50" fill="url(#stripeE43)"/>
<line x1="411.20" y1="510.30" x2="411.20" y2="522.50" stroke="#cfcb1c" stroke-width="1.6"/>
<polyline points="405.86,509.80 401.41,512.50 399.19,513.10" fill="none" stroke="#cfcb1c" stroke-width="1.3"/>
<polyline points="416.54,509.80 420.99,512.50 423.21,513.10" fill="none" stroke="#cfcb1c" stroke-width="1.3"/>
<use href="#mpE" transform="translate(411.20 466.30) scale(8.90 46.00)" fill="url(#mE43)"/><use href="#mpE" transform="translate(411.20 466.30) scale(8.90 46.00)" fill="url(#mEhead)"/>
<ellipse cx="412.10" cy="471.80" rx="5.00" ry="5.00" fill="url(#bB)"/>
<ellipse cx="411.50" cy="485.80" rx="7.50" ry="6.50" fill="url(#bB)"/>
<ellipse cx="411.20" cy="505.00" rx="9.00" ry="12.00" fill="url(#bCyan)"/>
<ellipse cx="405.50" cy="480.00" rx="3.50" ry="3.50" fill="url(#bB)"/>
<ellipse cx="404.00" cy="496.00" rx="3.00" ry="4.00" fill="url(#bB)"/>
<ellipse cx="430.5" cy="469" rx="1.6" ry="4" fill="#5a5a20"/>
<rect x="79.80" y="525.90" width="57.50" height="63.80" fill="url(#stripeE)"/>
<line x1="90.50" y1="573.40" x2="90.50" y2="589.70" stroke="#cfcb1c" stroke-width="1.6"/>
<polyline points="85.58,572.90 81.48,575.60 79.43,576.20" fill="none" stroke="#cfcb1c" stroke-width="1.3"/>
<polyline points="95.42,572.90 99.52,575.60 101.57,576.20" fill="none" stroke="#cfcb1c" stroke-width="1.3"/>
<use href="#mpE" transform="translate(90.50 527.10) scale(8.20 48.30)" fill="url(#mE)"/><use href="#mpE" transform="translate(90.50 527.10) scale(8.20 48.30)" fill="url(#mEhead)"/>
<line x1="109.20" y1="573.40" x2="109.20" y2="589.70" stroke="#cfcb1c" stroke-width="1.6"/>
<polyline points="104.28,572.90 100.18,575.60 98.13,576.20" fill="none" stroke="#cfcb1c" stroke-width="1.3"/>
<polyline points="114.12,572.90 118.22,575.60 120.27,576.20" fill="none" stroke="#cfcb1c" stroke-width="1.3"/>
<use href="#mpE" transform="translate(109.20 527.10) scale(8.20 48.30)" fill="url(#mE)"/><use href="#mpE" transform="translate(109.20 527.10) scale(8.20 48.30)" fill="url(#mEhead)"/>
<line x1="127.00" y1="573.40" x2="127.00" y2="589.70" stroke="#cfcb1c" stroke-width="1.6"/>
<polyline points="122.08,572.90 117.98,575.60 115.93,576.20" fill="none" stroke="#cfcb1c" stroke-width="1.3"/>
<polyline points="131.92,572.90 136.02,575.60 138.07,576.20" fill="none" stroke="#cfcb1c" stroke-width="1.3"/>
<use href="#mpE" transform="translate(127.00 527.10) scale(8.20 48.30)" fill="url(#mE)"/><use href="#mpE" transform="translate(127.00 527.10) scale(8.20 48.30)" fill="url(#mEhead)"/>
<ellipse cx="90.80" cy="534.10" rx="2.00" ry="2.00" fill="url(#bB)"/>
<ellipse cx="107.40" cy="569.20" rx="2.60" ry="2.40" fill="url(#bB)"/>
<rect x="140.00" y="527.00" width="57.70" height="63.60" fill="url(#stripeE)"/>
<line x1="150.10" y1="574.50" x2="150.10" y2="590.60" stroke="#cfcb1c" stroke-width="1.6"/>
<polyline points="145.18,574.00 141.08,576.70 139.03,577.30" fill="none" stroke="#cfcb1c" stroke-width="1.3"/>
<polyline points="155.02,574.00 159.12,576.70 161.17,577.30" fill="none" stroke="#cfcb1c" stroke-width="1.3"/>
<use href="#mpE" transform="translate(150.10 528.20) scale(8.20 48.30)" fill="url(#mE)"/><use href="#mpE" transform="translate(150.10 528.20) scale(8.20 48.30)" fill="url(#mEhead)"/>
<line x1="168.80" y1="574.50" x2="168.80" y2="590.60" stroke="#cfcb1c" stroke-width="1.6"/>
<polyline points="163.88,574.00 159.78,576.70 157.73,577.30" fill="none" stroke="#cfcb1c" stroke-width="1.3"/>
<polyline points="173.72,574.00 177.82,576.70 179.87,577.30" fill="none" stroke="#cfcb1c" stroke-width="1.3"/>
<use href="#mpE" transform="translate(168.80 528.20) scale(8.20 48.30)" fill="url(#mE)"/><use href="#mpE" transform="translate(168.80 528.20) scale(8.20 48.30)" fill="url(#mEhead)"/>
<line x1="186.60" y1="574.50" x2="186.60" y2="590.60" stroke="#cfcb1c" stroke-width="1.6"/>
<polyline points="181.68,574.00 177.58,576.70 175.53,577.30" fill="none" stroke="#cfcb1c" stroke-width="1.3"/>
<polyline points="191.52,574.00 195.62,576.70 197.67,577.30" fill="none" stroke="#cfcb1c" stroke-width="1.3"/>
<use href="#mpE" transform="translate(186.60 528.20) scale(8.20 48.30)" fill="url(#mE)"/><use href="#mpE" transform="translate(186.60 528.20) scale(8.20 48.30)" fill="url(#mEhead)"/>
<ellipse cx="154.20" cy="544.30" rx="2.50" ry="4.00" fill="url(#bB)"/>
<ellipse cx="149.60" cy="555.80" rx="1.10" ry="1.10" fill="url(#bB)"/>
<ellipse cx="147.50" cy="571.90" rx="4.50" ry="5.50" fill="url(#bB)"/>
<ellipse cx="168.80" cy="531.80" rx="2.00" ry="2.20" fill="url(#bB)"/>
<ellipse cx="167.60" cy="559.40" rx="0.80" ry="0.80" fill="url(#bB)"/>
<ellipse cx="187.50" cy="531.80" rx="2.00" ry="2.20" fill="url(#bB)"/>
<rect x="205.80" y="525.90" width="57.50" height="63.80" fill="url(#stripeE)"/>
<line x1="217.40" y1="573.40" x2="217.40" y2="589.70" stroke="#cfcb1c" stroke-width="1.6"/>
<polyline points="212.48,572.90 208.38,575.60 206.33,576.20" fill="none" stroke="#cfcb1c" stroke-width="1.3"/>
<polyline points="222.32,572.90 226.42,575.60 228.47,576.20" fill="none" stroke="#cfcb1c" stroke-width="1.3"/>
<use href="#mpE" transform="translate(217.40 527.10) scale(8.20 48.30)" fill="url(#mE)"/><use href="#mpE" transform="translate(217.40 527.10) scale(8.20 48.30)" fill="url(#mEhead)"/>
<line x1="235.70" y1="573.40" x2="235.70" y2="589.70" stroke="#cfcb1c" stroke-width="1.6"/>
<polyline points="230.78,572.90 226.68,575.60 224.63,576.20" fill="none" stroke="#cfcb1c" stroke-width="1.3"/>
<polyline points="240.62,572.90 244.72,575.60 246.77,576.20" fill="none" stroke="#cfcb1c" stroke-width="1.3"/>
<use href="#mpE" transform="translate(235.70 527.10) scale(8.20 48.30)" fill="url(#mE)"/><use href="#mpE" transform="translate(235.70 527.10) scale(8.20 48.30)" fill="url(#mEhead)"/>
<line x1="253.50" y1="573.40" x2="253.50" y2="589.70" stroke="#cfcb1c" stroke-width="1.6"/>
<polyline points="248.58,572.90 244.48,575.60 242.43,576.20" fill="none" stroke="#cfcb1c" stroke-width="1.3"/>
<polyline points="258.42,572.90 262.52,575.60 264.57,576.20" fill="none" stroke="#cfcb1c" stroke-width="1.3"/>
<use href="#mpE" transform="translate(253.50 527.10) scale(8.20 48.30)" fill="url(#mE)"/><use href="#mpE" transform="translate(253.50 527.10) scale(8.20 48.30)" fill="url(#mEhead)"/>
<rect x="266.30" y="525.90" width="57.40" height="63.80" fill="url(#stripeE)"/>
<line x1="277.00" y1="573.40" x2="277.00" y2="589.70" stroke="#cfcb1c" stroke-width="1.6"/>
<polyline points="272.08,572.90 267.98,575.60 265.93,576.20" fill="none" stroke="#cfcb1c" stroke-width="1.3"/>
<polyline points="281.92,572.90 286.02,575.60 288.07,576.20" fill="none" stroke="#cfcb1c" stroke-width="1.3"/>
<use href="#mpE" transform="translate(277.00 527.10) scale(8.20 48.30)" fill="url(#mE)"/><use href="#mpE" transform="translate(277.00 527.10) scale(8.20 48.30)" fill="url(#mEhead)"/>
<line x1="294.80" y1="573.40" x2="294.80" y2="589.70" stroke="#cfcb1c" stroke-width="1.6"/>
<polyline points="289.88,572.90 285.78,575.60 283.73,576.20" fill="none" stroke="#cfcb1c" stroke-width="1.3"/>
<polyline points="299.72,572.90 303.82,575.60 305.87,576.20" fill="none" stroke="#cfcb1c" stroke-width="1.3"/>
<use href="#mpE" transform="translate(294.80 527.10) scale(8.20 48.30)" fill="url(#mE)"/><use href="#mpE" transform="translate(294.80 527.10) scale(8.20 48.30)" fill="url(#mEhead)"/>
<line x1="313.00" y1="573.40" x2="313.00" y2="589.70" stroke="#cfcb1c" stroke-width="1.6"/>
<polyline points="308.08,572.90 303.98,575.60 301.93,576.20" fill="none" stroke="#cfcb1c" stroke-width="1.3"/>
<polyline points="317.92,572.90 322.02,575.60 324.07,576.20" fill="none" stroke="#cfcb1c" stroke-width="1.3"/>
<use href="#mpE" transform="translate(313.00 527.10) scale(8.20 48.30)" fill="url(#mE)"/><use href="#mpE" transform="translate(313.00 527.10) scale(8.20 48.30)" fill="url(#mEhead)"/>
<ellipse cx="275.20" cy="573.60" rx="5.00" ry="6.00" fill="url(#bCyan)"/>
<ellipse cx="295.20" cy="532.30" rx="2.00" ry="2.00" fill="url(#bB)"/>
<ellipse cx="306.90" cy="569.70" rx="1.50" ry="1.50" fill="url(#bB)"/>
<rect x="331.00" y="526.90" width="64.40" height="64.30" fill="#000" rx="1.5"/>
<rect x="333.70" y="529.60" width="59.00" height="58.90" fill="url(#stripeE43)"/>
<line x1="343.80" y1="575.90" x2="343.80" y2="588.50" stroke="#cfcb1c" stroke-width="1.6"/>
<polyline points="338.46,575.40 334.01,578.10 331.79,578.70" fill="none" stroke="#cfcb1c" stroke-width="1.3"/>
<polyline points="349.14,575.40 353.59,578.10 355.81,578.70" fill="none" stroke="#cfcb1c" stroke-width="1.3"/>
<use href="#mpE" transform="translate(343.80 531.90) scale(8.90 46.00)" fill="url(#mE43)"/><use href="#mpE" transform="translate(343.80 531.90) scale(8.90 46.00)" fill="url(#mEhead)"/>
<line x1="363.00" y1="575.90" x2="363.00" y2="588.50" stroke="#cfcb1c" stroke-width="1.6"/>
<polyline points="357.66,575.40 353.21,578.10 350.99,578.70" fill="none" stroke="#cfcb1c" stroke-width="1.3"/>
<polyline points="368.34,575.40 372.79,578.10 375.01,578.70" fill="none" stroke="#cfcb1c" stroke-width="1.3"/>
<use href="#mpE" transform="translate(363.00 531.90) scale(8.90 46.00)" fill="url(#mE43)"/><use href="#mpE" transform="translate(363.00 531.90) scale(8.90 46.00)" fill="url(#mEhead)"/>
<line x1="381.40" y1="575.90" x2="381.40" y2="588.50" stroke="#cfcb1c" stroke-width="1.6"/>
<polyline points="376.06,575.40 371.61,578.10 369.38,578.70" fill="none" stroke="#cfcb1c" stroke-width="1.3"/>
<polyline points="386.74,575.40 391.19,578.10 393.41,578.70" fill="none" stroke="#cfcb1c" stroke-width="1.3"/>
<use href="#mpE" transform="translate(381.40 531.90) scale(8.90 46.00)" fill="url(#mE43)"/><use href="#mpE" transform="translate(381.40 531.90) scale(8.90 46.00)" fill="url(#mEhead)"/>
<ellipse cx="350.40" cy="550.00" rx="2.00" ry="3.50" fill="url(#bB)"/>
<ellipse cx="349.90" cy="566.70" rx="2.00" ry="3.00" fill="url(#bB)"/>
<ellipse cx="365.10" cy="544.80" rx="3.00" ry="4.00" fill="url(#bB)"/>
<ellipse cx="367.40" cy="551.80" rx="2.50" ry="2.50" fill="url(#bB)"/>
<ellipse cx="363.90" cy="576.30" rx="3.50" ry="3.00" fill="url(#bB)"/>
<rect x="397.20" y="526.90" width="46.80" height="64.30" fill="#000" rx="1.5"/>
<rect x="399.90" y="529.60" width="41.40" height="58.90" fill="url(#stripeE43)"/>
<line x1="413.00" y1="575.90" x2="413.00" y2="588.50" stroke="#cfcb1c" stroke-width="1.6"/>
<polyline points="407.66,575.40 403.21,578.10 400.99,578.70" fill="none" stroke="#cfcb1c" stroke-width="1.3"/>
<polyline points="418.34,575.40 422.79,578.10 425.01,578.70" fill="none" stroke="#cfcb1c" stroke-width="1.3"/>
<use href="#mpE" transform="translate(413.00 531.90) scale(8.90 46.00)" fill="url(#mE43)"/><use href="#mpE" transform="translate(413.00 531.90) scale(8.90 46.00)" fill="url(#mEhead)"/>
<line x1="429.60" y1="575.90" x2="429.60" y2="588.50" stroke="#cfcb1c" stroke-width="1.6"/>
<polyline points="424.26,575.40 419.81,578.10 417.59,578.70" fill="none" stroke="#cfcb1c" stroke-width="1.3"/>
<polyline points="434.94,575.40 439.39,578.10 441.62,578.70" fill="none" stroke="#cfcb1c" stroke-width="1.3"/>
<use href="#mpE" transform="translate(429.60 531.90) scale(8.90 46.00)" fill="url(#mE43)"/><use href="#mpE" transform="translate(429.60 531.90) scale(8.90 46.00)" fill="url(#mEhead)"/>
<ellipse cx="412.10" cy="536.00" rx="2.50" ry="4.00" fill="url(#bB)"/>
<ellipse cx="413.50" cy="543.00" rx="1.50" ry="1.50" fill="url(#bB)"/>
<ellipse cx="413.00" cy="548.60" rx="2.20" ry="2.20" fill="url(#bB)"/>
<ellipse cx="428.70" cy="573.70" rx="6.00" ry="5.00" fill="url(#bB)"/>
<rect x="80.10" y="593.90" width="56.30" height="61.60" fill="url(#stripeE)"/>
<line x1="90.50" y1="641.40" x2="90.50" y2="655.50" stroke="#cfcb1c" stroke-width="1.6"/>
<polyline points="85.58,640.90 81.48,643.60 79.43,644.20" fill="none" stroke="#cfcb1c" stroke-width="1.3"/>
<polyline points="95.42,640.90 99.52,643.60 101.57,644.20" fill="none" stroke="#cfcb1c" stroke-width="1.3"/>
<use href="#mpE" transform="translate(90.50 595.10) scale(8.20 48.30)" fill="url(#mE)"/><use href="#mpE" transform="translate(90.50 595.10) scale(8.20 48.30)" fill="url(#mEhead)"/>
<line x1="108.60" y1="641.40" x2="108.60" y2="655.50" stroke="#cfcb1c" stroke-width="1.6"/>
<polyline points="103.68,640.90 99.58,643.60 97.53,644.20" fill="none" stroke="#cfcb1c" stroke-width="1.3"/>
<polyline points="113.52,640.90 117.62,643.60 119.67,644.20" fill="none" stroke="#cfcb1c" stroke-width="1.3"/>
<use href="#mpE" transform="translate(108.60 595.10) scale(8.20 48.30)" fill="url(#mE)"/><use href="#mpE" transform="translate(108.60 595.10) scale(8.20 48.30)" fill="url(#mEhead)"/>
<line x1="127.00" y1="641.40" x2="127.00" y2="655.50" stroke="#cfcb1c" stroke-width="1.6"/>
<polyline points="122.08,640.90 117.98,643.60 115.93,644.20" fill="none" stroke="#cfcb1c" stroke-width="1.3"/>
<polyline points="131.92,640.90 136.02,643.60 138.07,644.20" fill="none" stroke="#cfcb1c" stroke-width="1.3"/>
<use href="#mpE" transform="translate(127.00 595.10) scale(8.20 48.30)" fill="url(#mE)"/><use href="#mpE" transform="translate(127.00 595.10) scale(8.20 48.30)" fill="url(#mEhead)"/>
<ellipse cx="92.20" cy="601.60" rx="1.80" ry="1.80" fill="url(#bB)"/>
<ellipse cx="89.60" cy="637.20" rx="4.00" ry="4.50" fill="url(#bB)"/>
<ellipse cx="89.60" cy="620.60" rx="0.80" ry="0.80" fill="url(#bB)"/>
<ellipse cx="108.60" cy="635.40" rx="4.00" ry="3.50" fill="url(#bB)"/>
<ellipse cx="108.60" cy="598.90" rx="1.50" ry="1.50" fill="url(#bB)"/>
<ellipse cx="131.00" cy="618.50" rx="2.50" ry="3.00" fill="url(#bB)"/>
<ellipse cx="127.00" cy="640.80" rx="2.00" ry="2.00" fill="url(#bB)"/>
<rect x="138.60" y="594.50" width="59.10" height="61.00" fill="url(#stripeE)"/>
<line x1="150.10" y1="642.00" x2="150.10" y2="655.50" stroke="#cfcb1c" stroke-width="1.6"/>
<polyline points="145.18,641.50 141.08,644.20 139.03,644.80" fill="none" stroke="#cfcb1c" stroke-width="1.3"/>
<polyline points="155.02,641.50 159.12,644.20 161.17,644.80" fill="none" stroke="#cfcb1c" stroke-width="1.3"/>
<use href="#mpE" transform="translate(150.10 595.70) scale(8.20 48.30)" fill="url(#mE)"/><use href="#mpE" transform="translate(150.10 595.70) scale(8.20 48.30)" fill="url(#mEhead)"/>
<line x1="167.90" y1="642.00" x2="167.90" y2="655.50" stroke="#cfcb1c" stroke-width="1.6"/>
<polyline points="162.98,641.50 158.88,644.20 156.83,644.80" fill="none" stroke="#cfcb1c" stroke-width="1.3"/>
<polyline points="172.82,641.50 176.92,644.20 178.97,644.80" fill="none" stroke="#cfcb1c" stroke-width="1.3"/>
<use href="#mpE" transform="translate(167.90 595.70) scale(8.20 48.30)" fill="url(#mE)"/><use href="#mpE" transform="translate(167.90 595.70) scale(8.20 48.30)" fill="url(#mEhead)"/>
<line x1="186.60" y1="642.00" x2="186.60" y2="655.50" stroke="#cfcb1c" stroke-width="1.6"/>
<polyline points="181.68,641.50 177.58,644.20 175.53,644.80" fill="none" stroke="#cfcb1c" stroke-width="1.3"/>
<polyline points="191.52,641.50 195.62,644.20 197.67,644.80" fill="none" stroke="#cfcb1c" stroke-width="1.3"/>
<use href="#mpE" transform="translate(186.60 595.70) scale(8.20 48.30)" fill="url(#mE)"/><use href="#mpE" transform="translate(186.60 595.70) scale(8.20 48.30)" fill="url(#mEhead)"/>
<ellipse cx="149.20" cy="618.50" rx="4.00" ry="5.00" fill="url(#bB)"/>
<ellipse cx="152.80" cy="609.60" rx="3.00" ry="4.00" fill="url(#bB)"/>
<ellipse cx="151.90" cy="627.40" rx="3.00" ry="3.50" fill="url(#bB)"/>
<ellipse cx="145.70" cy="635.40" rx="3.00" ry="4.50" fill="url(#bB)"/>
<ellipse cx="155.50" cy="633.60" rx="1.50" ry="1.50" fill="url(#bB)"/>
<ellipse cx="149.20" cy="641.60" rx="1.50" ry="1.50" fill="url(#bB)"/>
<ellipse cx="140.60" cy="596.60" rx="1.50" ry="1.50" fill="url(#bB)"/>
<ellipse cx="167.90" cy="635.40" rx="1.80" ry="1.80" fill="url(#bB)"/>
<ellipse cx="167.90" cy="611.40" rx="0.80" ry="0.80" fill="url(#bB)"/>
<ellipse cx="186.60" cy="607.80" rx="2.50" ry="2.50" fill="url(#bB)"/>
<rect x="205.80" y="593.20" width="57.90" height="62.30" fill="url(#stripeE)"/>
<line x1="216.80" y1="640.70" x2="216.80" y2="655.50" stroke="#cfcb1c" stroke-width="1.6"/>
<polyline points="211.88,640.20 207.78,642.90 205.73,643.50" fill="none" stroke="#cfcb1c" stroke-width="1.3"/>
<polyline points="221.72,640.20 225.82,642.90 227.87,643.50" fill="none" stroke="#cfcb1c" stroke-width="1.3"/>
<use href="#mpE" transform="translate(216.80 594.40) scale(8.20 48.30)" fill="url(#mE)"/><use href="#mpE" transform="translate(216.80 594.40) scale(8.20 48.30)" fill="url(#mEhead)"/>
<line x1="235.70" y1="640.70" x2="235.70" y2="655.50" stroke="#cfcb1c" stroke-width="1.6"/>
<polyline points="230.78,640.20 226.68,642.90 224.63,643.50" fill="none" stroke="#cfcb1c" stroke-width="1.3"/>
<polyline points="240.62,640.20 244.72,642.90 246.77,643.50" fill="none" stroke="#cfcb1c" stroke-width="1.3"/>
<use href="#mpE" transform="translate(235.70 594.40) scale(8.20 48.30)" fill="url(#mE)"/><use href="#mpE" transform="translate(235.70 594.40) scale(8.20 48.30)" fill="url(#mEhead)"/>
<line x1="253.00" y1="640.70" x2="253.00" y2="655.50" stroke="#cfcb1c" stroke-width="1.6"/>
<polyline points="248.08,640.20 243.98,642.90 241.93,643.50" fill="none" stroke="#cfcb1c" stroke-width="1.3"/>
<polyline points="257.92,640.20 262.02,642.90 264.07,643.50" fill="none" stroke="#cfcb1c" stroke-width="1.3"/>
<use href="#mpE" transform="translate(253.00 594.40) scale(8.20 48.30)" fill="url(#mE)"/><use href="#mpE" transform="translate(253.00 594.40) scale(8.20 48.30)" fill="url(#mEhead)"/>
<ellipse cx="217.40" cy="601.00" rx="3.00" ry="4.00" fill="url(#bB)"/>
<ellipse cx="236.40" cy="636.70" rx="3.50" ry="3.00" fill="url(#bB)"/>
<ellipse cx="260.10" cy="631.90" rx="2.00" ry="3.00" fill="url(#bB)"/>
<rect x="266.30" y="593.20" width="57.40" height="62.30" fill="url(#stripeE)"/>
<line x1="276.10" y1="640.70" x2="276.10" y2="655.50" stroke="#cfcb1c" stroke-width="1.6"/>
<polyline points="271.18,640.20 267.08,642.90 265.03,643.50" fill="none" stroke="#cfcb1c" stroke-width="1.3"/>
<polyline points="281.02,640.20 285.12,642.90 287.17,643.50" fill="none" stroke="#cfcb1c" stroke-width="1.3"/>
<use href="#mpE" transform="translate(276.10 594.40) scale(8.20 48.30)" fill="url(#mE)"/><use href="#mpE" transform="translate(276.10 594.40) scale(8.20 48.30)" fill="url(#mEhead)"/>
<line x1="294.80" y1="640.70" x2="294.80" y2="655.50" stroke="#cfcb1c" stroke-width="1.6"/>
<polyline points="289.88,640.20 285.78,642.90 283.73,643.50" fill="none" stroke="#cfcb1c" stroke-width="1.3"/>
<polyline points="299.72,640.20 303.82,642.90 305.87,643.50" fill="none" stroke="#cfcb1c" stroke-width="1.3"/>
<use href="#mpE" transform="translate(294.80 594.40) scale(8.20 48.30)" fill="url(#mE)"/><use href="#mpE" transform="translate(294.80 594.40) scale(8.20 48.30)" fill="url(#mEhead)"/>
<line x1="313.00" y1="640.70" x2="313.00" y2="655.50" stroke="#cfcb1c" stroke-width="1.6"/>
<polyline points="308.08,640.20 303.98,642.90 301.93,643.50" fill="none" stroke="#cfcb1c" stroke-width="1.3"/>
<polyline points="317.92,640.20 322.02,642.90 324.07,643.50" fill="none" stroke="#cfcb1c" stroke-width="1.3"/>
<use href="#mpE" transform="translate(313.00 594.40) scale(8.20 48.30)" fill="url(#mE)"/><use href="#mpE" transform="translate(313.00 594.40) scale(8.20 48.30)" fill="url(#mEhead)"/>
<ellipse cx="274.90" cy="616.70" rx="3.50" ry="5.00" fill="url(#bB)"/>
<ellipse cx="279.20" cy="611.00" rx="2.50" ry="3.00" fill="url(#bB)"/>
<ellipse cx="269.00" cy="633.60" rx="2.50" ry="4.50" fill="url(#bB)"/>
<ellipse cx="320.70" cy="631.90" rx="1.80" ry="1.80" fill="url(#bB)"/>
<rect x="331.00" y="592.90" width="63.60" height="64.30" fill="#000" rx="1.5"/>
<rect x="333.70" y="595.60" width="58.20" height="58.90" fill="url(#stripeE43)"/>
<line x1="343.80" y1="641.90" x2="343.80" y2="654.50" stroke="#cfcb1c" stroke-width="1.6"/>
<polyline points="338.46,641.40 334.01,644.10 331.79,644.70" fill="none" stroke="#cfcb1c" stroke-width="1.3"/>
<polyline points="349.14,641.40 353.59,644.10 355.81,644.70" fill="none" stroke="#cfcb1c" stroke-width="1.3"/>
<use href="#mpE" transform="translate(343.80 597.90) scale(8.90 46.00)" fill="url(#mE43)"/><use href="#mpE" transform="translate(343.80 597.90) scale(8.90 46.00)" fill="url(#mEhead)"/>
<line x1="363.00" y1="641.90" x2="363.00" y2="654.50" stroke="#cfcb1c" stroke-width="1.6"/>
<polyline points="357.66,641.40 353.21,644.10 350.99,644.70" fill="none" stroke="#cfcb1c" stroke-width="1.3"/>
<polyline points="368.34,641.40 372.79,644.10 375.01,644.70" fill="none" stroke="#cfcb1c" stroke-width="1.3"/>
<use href="#mpE" transform="translate(363.00 597.90) scale(8.90 46.00)" fill="url(#mE43)"/><use href="#mpE" transform="translate(363.00 597.90) scale(8.90 46.00)" fill="url(#mEhead)"/>
<line x1="380.60" y1="641.90" x2="380.60" y2="654.50" stroke="#cfcb1c" stroke-width="1.6"/>
<polyline points="375.26,641.40 370.81,644.10 368.59,644.70" fill="none" stroke="#cfcb1c" stroke-width="1.3"/>
<polyline points="385.94,641.40 390.39,644.10 392.62,644.70" fill="none" stroke="#cfcb1c" stroke-width="1.3"/>
<use href="#mpE" transform="translate(380.60 597.90) scale(8.90 46.00)" fill="url(#mE43)"/><use href="#mpE" transform="translate(380.60 597.90) scale(8.90 46.00)" fill="url(#mEhead)"/>
<ellipse cx="345.50" cy="604.60" rx="4.00" ry="7.00" fill="url(#bB)"/>
<ellipse cx="363.00" cy="635.30" rx="7.50" ry="7.00" fill="url(#bGrn)"/>
<ellipse cx="380.20" cy="601.10" rx="3.00" ry="3.50" fill="url(#bB)"/>
<ellipse cx="384.40" cy="633.50" rx="3.00" ry="5.00" fill="url(#bB)"/>
<ellipse cx="383.20" cy="618.70" rx="1.50" ry="1.50" fill="url(#bB)"/>
<rect x="397.20" y="592.90" width="46.80" height="64.30" fill="#000" rx="1.5"/>
<rect x="399.90" y="595.60" width="41.40" height="58.90" fill="url(#stripeE43)"/>
<line x1="410.30" y1="641.90" x2="410.30" y2="654.50" stroke="#cfcb1c" stroke-width="1.6"/>
<polyline points="404.96,641.40 400.51,644.10 398.29,644.70" fill="none" stroke="#cfcb1c" stroke-width="1.3"/>
<polyline points="415.64,641.40 420.09,644.10 422.31,644.70" fill="none" stroke="#cfcb1c" stroke-width="1.3"/>
<use href="#mpE" transform="translate(410.30 597.90) scale(8.90 46.00)" fill="url(#mE43)"/><use href="#mpE" transform="translate(410.30 597.90) scale(8.90 46.00)" fill="url(#mEhead)"/>
<line x1="429.60" y1="641.90" x2="429.60" y2="654.50" stroke="#cfcb1c" stroke-width="1.6"/>
<polyline points="424.26,641.40 419.81,644.10 417.59,644.70" fill="none" stroke="#cfcb1c" stroke-width="1.3"/>
<polyline points="434.94,641.40 439.39,644.10 441.62,644.70" fill="none" stroke="#cfcb1c" stroke-width="1.3"/>
<use href="#mpE" transform="translate(429.60 597.90) scale(8.90 46.00)" fill="url(#mE43)"/><use href="#mpE" transform="translate(429.60 597.90) scale(8.90 46.00)" fill="url(#mEhead)"/>
<ellipse cx="429.60" cy="606.40" rx="3.00" ry="2.00" fill="url(#bB)"/>
<ellipse cx="434.50" cy="630.90" rx="3.50" ry="5.00" fill="url(#bB)"/>
<ellipse cx="426.50" cy="629.20" rx="1.50" ry="1.50" fill="url(#bB)"/>
<rect x="80.10" y="659.90" width="56.30" height="63.40" fill="url(#stripeE)"/>
<line x1="90.10" y1="707.40" x2="90.10" y2="723.30" stroke="#cfcb1c" stroke-width="1.6"/>
<polyline points="85.18,706.90 81.08,709.60 79.03,710.20" fill="none" stroke="#cfcb1c" stroke-width="1.3"/>
<polyline points="95.02,706.90 99.12,709.60 101.17,710.20" fill="none" stroke="#cfcb1c" stroke-width="1.3"/>
<use href="#mpE" transform="translate(90.10 661.10) scale(8.20 48.30)" fill="url(#mE)"/><use href="#mpE" transform="translate(90.10 661.10) scale(8.20 48.30)" fill="url(#mEhead)"/>
<line x1="107.90" y1="707.40" x2="107.90" y2="723.30" stroke="#cfcb1c" stroke-width="1.6"/>
<polyline points="102.98,706.90 98.88,709.60 96.83,710.20" fill="none" stroke="#cfcb1c" stroke-width="1.3"/>
<polyline points="112.82,706.90 116.92,709.60 118.97,710.20" fill="none" stroke="#cfcb1c" stroke-width="1.3"/>
<use href="#mpE" transform="translate(107.90 661.10) scale(8.20 48.30)" fill="url(#mE)"/><use href="#mpE" transform="translate(107.90 661.10) scale(8.20 48.30)" fill="url(#mEhead)"/>
<line x1="125.20" y1="707.40" x2="125.20" y2="723.30" stroke="#cfcb1c" stroke-width="1.6"/>
<polyline points="120.28,706.90 116.18,709.60 114.13,710.20" fill="none" stroke="#cfcb1c" stroke-width="1.3"/>
<polyline points="130.12,706.90 134.22,709.60 136.27,710.20" fill="none" stroke="#cfcb1c" stroke-width="1.3"/>
<use href="#mpE" transform="translate(125.20 661.10) scale(8.20 48.30)" fill="url(#mE)"/><use href="#mpE" transform="translate(125.20 661.10) scale(8.20 48.30)" fill="url(#mEhead)"/>
<ellipse cx="90.80" cy="665.80" rx="2.00" ry="3.50" fill="url(#bB)"/>
<ellipse cx="90.10" cy="684.50" rx="1.20" ry="1.20" fill="url(#bB)"/>
<ellipse cx="84.20" cy="697.90" rx="1.80" ry="1.80" fill="url(#bB)"/>
<ellipse cx="107.40" cy="669.40" rx="3.00" ry="3.00" fill="url(#bB)"/>
<ellipse cx="106.10" cy="703.20" rx="1.20" ry="1.20" fill="url(#bB)"/>
<ellipse cx="120.40" cy="699.60" rx="3.50" ry="5.00" fill="url(#bB)"/>
<rect x="138.60" y="659.90" width="59.10" height="63.40" fill="url(#stripeE)"/>
<line x1="148.30" y1="707.40" x2="148.30" y2="723.30" stroke="#cfcb1c" stroke-width="1.6"/>
<polyline points="143.38,706.90 139.28,709.60 137.23,710.20" fill="none" stroke="#cfcb1c" stroke-width="1.3"/>
<polyline points="153.22,706.90 157.32,709.60 159.37,710.20" fill="none" stroke="#cfcb1c" stroke-width="1.3"/>
<use href="#mpE" transform="translate(148.30 661.10) scale(8.20 48.30)" fill="url(#mE)"/><use href="#mpE" transform="translate(148.30 661.10) scale(8.20 48.30)" fill="url(#mEhead)"/>
<line x1="166.20" y1="707.40" x2="166.20" y2="723.30" stroke="#cfcb1c" stroke-width="1.6"/>
<polyline points="161.28,706.90 157.18,709.60 155.13,710.20" fill="none" stroke="#cfcb1c" stroke-width="1.3"/>
<polyline points="171.12,706.90 175.22,709.60 177.27,710.20" fill="none" stroke="#cfcb1c" stroke-width="1.3"/>
<use href="#mpE" transform="translate(166.20 661.10) scale(8.20 48.30)" fill="url(#mE)"/><use href="#mpE" transform="translate(166.20 661.10) scale(8.20 48.30)" fill="url(#mEhead)"/>
<line x1="184.90" y1="707.40" x2="184.90" y2="723.30" stroke="#cfcb1c" stroke-width="1.6"/>
<polyline points="179.98,706.90 175.88,709.60 173.83,710.20" fill="none" stroke="#cfcb1c" stroke-width="1.3"/>
<polyline points="189.82,706.90 193.92,709.60 195.97,710.20" fill="none" stroke="#cfcb1c" stroke-width="1.3"/>
<use href="#mpE" transform="translate(184.90 661.10) scale(8.20 48.30)" fill="url(#mE)"/><use href="#mpE" transform="translate(184.90 661.10) scale(8.20 48.30)" fill="url(#mEhead)"/>
<ellipse cx="149.60" cy="671.10" rx="1.20" ry="1.20" fill="url(#bB)"/>
<ellipse cx="146.00" cy="706.20" rx="2.80" ry="2.80" fill="url(#bB)"/>
<ellipse cx="164.40" cy="676.50" rx="3.00" ry="4.50" fill="url(#bB)"/>
<ellipse cx="166.50" cy="670.20" rx="2.00" ry="2.00" fill="url(#bB)"/>
<ellipse cx="162.60" cy="701.40" rx="2.50" ry="3.50" fill="url(#bB)"/>
<ellipse cx="172.00" cy="701.40" rx="2.50" ry="2.50" fill="url(#bB)"/>
<ellipse cx="186.60" cy="674.70" rx="3.00" ry="3.50" fill="url(#bB)"/>
<ellipse cx="188.10" cy="704.10" rx="3.00" ry="3.50" fill="url(#bB)"/>
<ellipse cx="186.60" cy="668.50" rx="1.50" ry="1.50" fill="url(#bB)"/>
<ellipse cx="141.00" cy="662.50" rx="1.20" ry="1.20" fill="url(#bB)"/>
<rect x="205.40" y="659.20" width="57.40" height="62.70" fill="url(#stripeE)"/>
<line x1="216.10" y1="706.70" x2="216.10" y2="721.90" stroke="#cfcb1c" stroke-width="1.6"/>
<polyline points="211.18,706.20 207.08,708.90 205.03,709.50" fill="none" stroke="#cfcb1c" stroke-width="1.3"/>
<polyline points="221.02,706.20 225.12,708.90 227.17,709.50" fill="none" stroke="#cfcb1c" stroke-width="1.3"/>
<use href="#mpE" transform="translate(216.10 660.40) scale(8.20 48.30)" fill="url(#mE)"/><use href="#mpE" transform="translate(216.10 660.40) scale(8.20 48.30)" fill="url(#mEhead)"/>
<line x1="235.20" y1="706.70" x2="235.20" y2="721.90" stroke="#cfcb1c" stroke-width="1.6"/>
<polyline points="230.28,706.20 226.18,708.90 224.13,709.50" fill="none" stroke="#cfcb1c" stroke-width="1.3"/>
<polyline points="240.12,706.20 244.22,708.90 246.27,709.50" fill="none" stroke="#cfcb1c" stroke-width="1.3"/>
<use href="#mpE" transform="translate(235.20 660.40) scale(8.20 48.30)" fill="url(#mE)"/><use href="#mpE" transform="translate(235.20 660.40) scale(8.20 48.30)" fill="url(#mEhead)"/>
<line x1="253.00" y1="706.70" x2="253.00" y2="721.90" stroke="#cfcb1c" stroke-width="1.6"/>
<polyline points="248.08,706.20 243.98,708.90 241.93,709.50" fill="none" stroke="#cfcb1c" stroke-width="1.3"/>
<polyline points="257.92,706.20 262.02,708.90 264.07,709.50" fill="none" stroke="#cfcb1c" stroke-width="1.3"/>
<use href="#mpE" transform="translate(253.00 660.40) scale(8.20 48.30)" fill="url(#mE)"/><use href="#mpE" transform="translate(253.00 660.40) scale(8.20 48.30)" fill="url(#mEhead)"/>
<ellipse cx="217.90" cy="668.80" rx="2.50" ry="3.00" fill="url(#bB)"/>
<ellipse cx="213.30" cy="706.80" rx="1.80" ry="1.80" fill="url(#bB)"/>
<ellipse cx="234.60" cy="667.00" rx="2.00" ry="2.00" fill="url(#bB)"/>
<ellipse cx="247.10" cy="700.50" rx="2.50" ry="4.00" fill="url(#bB)"/>
<rect x="266.00" y="659.90" width="57.70" height="62.00" fill="url(#stripeE)"/>
<line x1="275.20" y1="707.40" x2="275.20" y2="721.90" stroke="#cfcb1c" stroke-width="1.6"/>
<polyline points="270.28,706.90 266.18,709.60 264.13,710.20" fill="none" stroke="#cfcb1c" stroke-width="1.3"/>
<polyline points="280.12,706.90 284.22,709.60 286.27,710.20" fill="none" stroke="#cfcb1c" stroke-width="1.3"/>
<use href="#mpE" transform="translate(275.20 661.10) scale(8.20 48.30)" fill="url(#mE)"/><use href="#mpE" transform="translate(275.20 661.10) scale(8.20 48.30)" fill="url(#mEhead)"/>
<line x1="294.80" y1="707.40" x2="294.80" y2="721.90" stroke="#cfcb1c" stroke-width="1.6"/>
<polyline points="289.88,706.90 285.78,709.60 283.73,710.20" fill="none" stroke="#cfcb1c" stroke-width="1.3"/>
<polyline points="299.72,706.90 303.82,709.60 305.87,710.20" fill="none" stroke="#cfcb1c" stroke-width="1.3"/>
<use href="#mpE" transform="translate(294.80 661.10) scale(8.20 48.30)" fill="url(#mE)"/><use href="#mpE" transform="translate(294.80 661.10) scale(8.20 48.30)" fill="url(#mEhead)"/>
<ellipse cx="273.10" cy="705.90" rx="3.00" ry="3.50" fill="url(#bB)"/>
<ellipse cx="301.60" cy="698.70" rx="2.00" ry="3.00" fill="url(#bB)"/>
<ellipse cx="313" cy="666" rx="1.5" ry="4" fill="#404018"/>
<rect x="330.60" y="659.30" width="65.40" height="63.00" fill="#000" rx="1.5"/>
<rect x="333.30" y="662.00" width="60.00" height="57.60" fill="url(#stripeE43)"/>
<line x1="345.20" y1="708.30" x2="345.20" y2="719.60" stroke="#cfcb1c" stroke-width="1.6"/>
<polyline points="339.86,707.80 335.41,710.50 333.19,711.10" fill="none" stroke="#cfcb1c" stroke-width="1.3"/>
<polyline points="350.54,707.80 354.99,710.50 357.21,711.10" fill="none" stroke="#cfcb1c" stroke-width="1.3"/>
<use href="#mpE" transform="translate(345.20 664.30) scale(8.90 46.00)" fill="url(#mE43)"/><use href="#mpE" transform="translate(345.20 664.30) scale(8.90 46.00)" fill="url(#mEhead)"/>
<line x1="363.00" y1="708.30" x2="363.00" y2="719.60" stroke="#cfcb1c" stroke-width="1.6"/>
<polyline points="357.66,707.80 353.21,710.50 350.99,711.10" fill="none" stroke="#cfcb1c" stroke-width="1.3"/>
<polyline points="368.34,707.80 372.79,710.50 375.01,711.10" fill="none" stroke="#cfcb1c" stroke-width="1.3"/>
<use href="#mpE" transform="translate(363.00 664.30) scale(8.90 46.00)" fill="url(#mE43)"/><use href="#mpE" transform="translate(363.00 664.30) scale(8.90 46.00)" fill="url(#mEhead)"/>
<line x1="381.40" y1="708.30" x2="381.40" y2="719.60" stroke="#cfcb1c" stroke-width="1.6"/>
<polyline points="376.06,707.80 371.61,710.50 369.38,711.10" fill="none" stroke="#cfcb1c" stroke-width="1.3"/>
<polyline points="386.74,707.80 391.19,710.50 393.41,711.10" fill="none" stroke="#cfcb1c" stroke-width="1.3"/>
<use href="#mpE" transform="translate(381.40 664.30) scale(8.90 46.00)" fill="url(#mE43)"/><use href="#mpE" transform="translate(381.40 664.30) scale(8.90 46.00)" fill="url(#mEhead)"/>
<ellipse cx="346.40" cy="671.50" rx="3.50" ry="4.00" fill="url(#bB)"/>
<ellipse cx="338.20" cy="701.00" rx="1.80" ry="1.80" fill="url(#bB)"/>
<ellipse cx="345.20" cy="707.40" rx="3.50" ry="3.50" fill="url(#bB)"/>
<ellipse cx="363.00" cy="667.10" rx="3.50" ry="4.00" fill="url(#bB)"/>
<ellipse cx="375.30" cy="701.00" rx="3.50" ry="5.00" fill="url(#bB)"/>
<rect x="397.20" y="660.10" width="46.80" height="62.80" fill="#000" rx="1.5"/>
<rect x="399.90" y="662.80" width="41.40" height="57.40" fill="url(#stripeE43)"/>
<line x1="410.30" y1="709.10" x2="410.30" y2="720.20" stroke="#cfcb1c" stroke-width="1.6"/>
<polyline points="404.96,708.60 400.51,711.30 398.29,711.90" fill="none" stroke="#cfcb1c" stroke-width="1.3"/>
<polyline points="415.64,708.60 420.09,711.30 422.31,711.90" fill="none" stroke="#cfcb1c" stroke-width="1.3"/>
<use href="#mpE" transform="translate(410.30 665.10) scale(8.90 46.00)" fill="url(#mE43)"/><use href="#mpE" transform="translate(410.30 665.10) scale(8.90 46.00)" fill="url(#mEhead)"/>
<line x1="428.70" y1="709.10" x2="428.70" y2="720.20" stroke="#cfcb1c" stroke-width="1.6"/>
<polyline points="423.36,708.60 418.91,711.30 416.69,711.90" fill="none" stroke="#cfcb1c" stroke-width="1.3"/>
<polyline points="434.04,708.60 438.49,711.30 440.71,711.90" fill="none" stroke="#cfcb1c" stroke-width="1.3"/>
<use href="#mpE" transform="translate(428.70 665.10) scale(8.90 46.00)" fill="url(#mE43)"/><use href="#mpE" transform="translate(428.70 665.10) scale(8.90 46.00)" fill="url(#mEhead)"/>
<ellipse cx="408.60" cy="705.70" rx="5.50" ry="6.00" fill="url(#bGrn)"/>
<ellipse cx="434.00" cy="700.40" rx="4.00" ry="6.00" fill="url(#bB)"/>
<ellipse cx="422.60" cy="699.90" rx="2.50" ry="3.50" fill="url(#bB)"/>
<ellipse cx="429.30" cy="692.50" rx="1.50" ry="1.50" fill="url(#bB)"/>
<linearGradient id="cbar" x1="0" y1="1" x2="0" y2="0"><stop offset="0" stop-color="#1a10ff"/><stop offset="0.25" stop-color="#1050a0"/><stop offset="0.45" stop-color="#10a060"/><stop offset="0.55" stop-color="#20b040"/><stop offset="0.75" stop-color="#806030"/><stop offset="1" stop-color="#ff1010"/></linearGradient>
<rect x="446.60" y="603.40" width="8.40" height="116.80" fill="url(#cbar)"/>
<text x="457.3" y="609.4" font-size="7.0" text-anchor="start" fill="#000">1.0</text>
<text x="457.3" y="631.5" font-size="7.0" text-anchor="start" fill="#000">0.8</text>
<text x="457.3" y="654.9" font-size="7.0" text-anchor="start" fill="#000">0.6</text>
<text x="457.3" y="676.6" font-size="7.0" text-anchor="start" fill="#000">0.4</text>
<text x="457.3" y="698.8" font-size="7.0" text-anchor="start" fill="#000">0.2</text>
<text x="457.3" y="720.3" font-size="7.0" text-anchor="start" fill="#000">0.0</text>
<text x="466.0" y="666.0" font-size="7.0" text-anchor="start" fill="#000">X 10<tspan font-size="4.5" dy="-2.5">8</tspan></text>
<text x="383.3" y="250.6" font-size="18.3" text-anchor="start" fill="#000" font-weight="bold">D</text>
<text x="534.6" y="251.5" font-size="12.8" text-anchor="middle" fill="#000">Day 42</text>
<text x="436.7" y="288.2" font-size="12.8" text-anchor="end" fill="#000">Vehicle</text>
<text x="437.8" y="347.0" font-size="12.8" text-anchor="end" fill="#000">NTX-301</text>
<text x="435.0" y="401.2" font-size="12.8" text-anchor="end" fill="#000">AZA</text>
<rect x="440.10" y="256.30" width="93.00" height="55.50" fill="url(#stripeD)"/>
<line x1="451.60" y1="300.80" x2="451.60" y2="311.80" stroke="#c4c4c4" stroke-width="1.4"/>
<polyline points="445.96,300.30 441.26,303.30 438.44,304.00" fill="none" stroke="#c8c8c8" stroke-width="1.2"/>
<polyline points="457.24,300.30 461.94,303.30 464.76,304.00" fill="none" stroke="#c8c8c8" stroke-width="1.2"/>
<use href="#mpD" transform="translate(451.60 260.70) scale(9.40 42.10)" fill="url(#mD)"/><use href="#mpD" transform="translate(451.60 260.70) scale(9.40 42.10)" fill="url(#mDhead)"/>
<line x1="473.80" y1="300.80" x2="473.80" y2="311.80" stroke="#c4c4c4" stroke-width="1.4"/>
<polyline points="468.16,300.30 463.46,303.30 460.64,304.00" fill="none" stroke="#c8c8c8" stroke-width="1.2"/>
<polyline points="479.44,300.30 484.14,303.30 486.96,304.00" fill="none" stroke="#c8c8c8" stroke-width="1.2"/>
<use href="#mpD" transform="translate(473.80 260.70) scale(9.40 42.10)" fill="url(#mD)"/><use href="#mpD" transform="translate(473.80 260.70) scale(9.40 42.10)" fill="url(#mDhead)"/>
<line x1="496.70" y1="300.80" x2="496.70" y2="311.80" stroke="#c4c4c4" stroke-width="1.4"/>
<polyline points="491.06,300.30 486.36,303.30 483.54,304.00" fill="none" stroke="#c8c8c8" stroke-width="1.2"/>
<polyline points="502.34,300.30 507.04,303.30 509.86,304.00" fill="none" stroke="#c8c8c8" stroke-width="1.2"/>
<use href="#mpD" transform="translate(496.70 260.70) scale(9.40 42.10)" fill="url(#mD)"/><use href="#mpD" transform="translate(496.70 260.70) scale(9.40 42.10)" fill="url(#mDhead)"/>
<line x1="518.80" y1="300.80" x2="518.80" y2="311.80" stroke="#c4c4c4" stroke-width="1.4"/>
<polyline points="513.16,300.30 508.46,303.30 505.64,304.00" fill="none" stroke="#c8c8c8" stroke-width="1.2"/>
<polyline points="524.44,300.30 529.14,303.30 531.96,304.00" fill="none" stroke="#c8c8c8" stroke-width="1.2"/>
<use href="#mpD" transform="translate(518.80 260.70) scale(9.40 42.10)" fill="url(#mD)"/><use href="#mpD" transform="translate(518.80 260.70) scale(9.40 42.10)" fill="url(#mDhead)"/>
<ellipse cx="454.00" cy="268.50" rx="7.50" ry="7.00" fill="url(#bB)"/>
<ellipse cx="451.00" cy="292.50" rx="11.00" ry="10.50" fill="url(#bB)"/>
<ellipse cx="444.60" cy="289.00" rx="3.20" ry="3.20" fill="url(#bHot)"/>
<ellipse cx="451.00" cy="305.00" rx="2.00" ry="3.00" fill="url(#bB)"/>
<ellipse cx="473.50" cy="270.50" rx="8.50" ry="6.50" fill="url(#bB)"/>
<ellipse cx="472.50" cy="295.00" rx="8.50" ry="8.00" fill="url(#bCyan)"/>
<ellipse cx="480.00" cy="284.00" rx="2.50" ry="3.00" fill="url(#bB)"/>
<ellipse cx="498.10" cy="298.30" rx="3.00" ry="2.50" fill="url(#bB)"/>
<ellipse cx="494.00" cy="294.00" rx="1.50" ry="1.50" fill="url(#bB)"/>
<ellipse cx="518.10" cy="294.50" rx="5.50" ry="5.00" fill="url(#bB)"/>
<path d="M440.1,257.8 A4.2,4.2 0 0 1 440.1,266.2 Z" fill="#f4f4f4"/>
<rect x="536.60" y="256.20" width="94.50" height="55.50" fill="url(#stripeD)"/>
<line x1="550.10" y1="300.70" x2="550.10" y2="311.70" stroke="#c4c4c4" stroke-width="1.4"/>
<polyline points="544.46,300.20 539.76,303.20 536.94,303.90" fill="none" stroke="#c8c8c8" stroke-width="1.2"/>
<polyline points="555.74,300.20 560.44,303.20 563.26,303.90" fill="none" stroke="#c8c8c8" stroke-width="1.2"/>
<use href="#mpD" transform="translate(550.10 260.60) scale(9.40 42.10)" fill="url(#mD)"/><use href="#mpD" transform="translate(550.10 260.60) scale(9.40 42.10)" fill="url(#mDhead)"/>
<line x1="571.20" y1="300.70" x2="571.20" y2="311.70" stroke="#c4c4c4" stroke-width="1.4"/>
<polyline points="565.56,300.20 560.86,303.20 558.04,303.90" fill="none" stroke="#c8c8c8" stroke-width="1.2"/>
<polyline points="576.84,300.20 581.54,303.20 584.36,303.90" fill="none" stroke="#c8c8c8" stroke-width="1.2"/>
<use href="#mpD" transform="translate(571.20 260.60) scale(9.40 42.10)" fill="url(#mD)"/><use href="#mpD" transform="translate(571.20 260.60) scale(9.40 42.10)" fill="url(#mDhead)"/>
<line x1="593.10" y1="300.70" x2="593.10" y2="311.70" stroke="#c4c4c4" stroke-width="1.4"/>
<polyline points="587.46,300.20 582.76,303.20 579.94,303.90" fill="none" stroke="#c8c8c8" stroke-width="1.2"/>
<polyline points="598.74,300.20 603.44,303.20 606.26,303.90" fill="none" stroke="#c8c8c8" stroke-width="1.2"/>
<use href="#mpD" transform="translate(593.10 260.60) scale(9.40 42.10)" fill="url(#mD)"/><use href="#mpD" transform="translate(593.10 260.60) scale(9.40 42.10)" fill="url(#mDhead)"/>
<line x1="615.80" y1="300.70" x2="615.80" y2="311.70" stroke="#c4c4c4" stroke-width="1.4"/>
<polyline points="610.16,300.20 605.46,303.20 602.64,303.90" fill="none" stroke="#c8c8c8" stroke-width="1.2"/>
<polyline points="621.44,300.20 626.14,303.20 628.96,303.90" fill="none" stroke="#c8c8c8" stroke-width="1.2"/>
<use href="#mpD" transform="translate(615.80 260.60) scale(9.40 42.10)" fill="url(#mD)"/><use href="#mpD" transform="translate(615.80 260.60) scale(9.40 42.10)" fill="url(#mDhead)"/>
<ellipse cx="551.50" cy="268.60" rx="4.50" ry="6.50" fill="url(#bB)"/>
<ellipse cx="551.50" cy="290.50" rx="3.50" ry="3.00" fill="url(#bB)"/>
<ellipse cx="553.00" cy="297.10" rx="2.20" ry="2.20" fill="url(#bB)"/>
<ellipse cx="545.70" cy="295.60" rx="1.50" ry="1.50" fill="url(#bB)"/>
<ellipse cx="571.20" cy="276.60" rx="8.00" ry="6.50" fill="url(#bB)"/>
<ellipse cx="593.10" cy="267.40" rx="2.00" ry="2.00" fill="url(#bB)"/>
<ellipse cx="593.90" cy="295.60" rx="6.00" ry="5.00" fill="url(#bB)"/>
<ellipse cx="612.10" cy="268.60" rx="4.00" ry="5.00" fill="url(#bB)"/>
<ellipse cx="616.50" cy="271.50" rx="3.00" ry="3.00" fill="url(#bB)"/>
<ellipse cx="618.00" cy="281.70" rx="7.00" ry="6.50" fill="url(#bB)"/>
<ellipse cx="615.00" cy="291.20" rx="6.00" ry="6.50" fill="url(#bB)"/>
<rect x="440.20" y="314.90" width="92.40" height="52.90" fill="url(#stripeD)"/>
<line x1="452.60" y1="356.40" x2="452.60" y2="367.80" stroke="#c4c4c4" stroke-width="1.4"/>
<polyline points="446.96,355.90 442.26,358.90 439.44,359.60" fill="none" stroke="#c8c8c8" stroke-width="1.2"/>
<polyline points="458.24,355.90 462.94,358.90 465.76,359.60" fill="none" stroke="#c8c8c8" stroke-width="1.2"/>
<use href="#mpD" transform="translate(452.60 317.90) scale(9.40 40.50)" fill="url(#mD)"/><use href="#mpD" transform="translate(452.60 317.90) scale(9.40 40.50)" fill="url(#mDhead)"/>
<line x1="473.80" y1="356.40" x2="473.80" y2="367.80" stroke="#c4c4c4" stroke-width="1.4"/>
<polyline points="468.16,355.90 463.46,358.90 460.64,359.60" fill="none" stroke="#c8c8c8" stroke-width="1.2"/>
<polyline points="479.44,355.90 484.14,358.90 486.96,359.60" fill="none" stroke="#c8c8c8" stroke-width="1.2"/>
<use href="#mpD" transform="translate(473.80 317.90) scale(9.40 40.50)" fill="url(#mD)"/><use href="#mpD" transform="translate(473.80 317.90) scale(9.40 40.50)" fill="url(#mDhead)"/>
<line x1="499.30" y1="356.40" x2="499.30" y2="367.80" stroke="#c4c4c4" stroke-width="1.4"/>
<polyline points="493.66,355.90 488.96,358.90 486.14,359.60" fill="none" stroke="#c8c8c8" stroke-width="1.2"/>
<polyline points="504.94,355.90 509.64,358.90 512.46,359.60" fill="none" stroke="#c8c8c8" stroke-width="1.2"/>
<use href="#mpD" transform="translate(499.30 317.90) scale(9.40 40.50)" fill="url(#mD)"/><use href="#mpD" transform="translate(499.30 317.90) scale(9.40 40.50)" fill="url(#mDhead)"/>
<line x1="521.20" y1="356.40" x2="521.20" y2="367.80" stroke="#c4c4c4" stroke-width="1.4"/>
<polyline points="515.56,355.90 510.86,358.90 508.04,359.60" fill="none" stroke="#c8c8c8" stroke-width="1.2"/>
<polyline points="526.84,355.90 531.54,358.90 534.36,359.60" fill="none" stroke="#c8c8c8" stroke-width="1.2"/>
<use href="#mpD" transform="translate(521.20 317.90) scale(9.40 40.50)" fill="url(#mD)"/><use href="#mpD" transform="translate(521.20 317.90) scale(9.40 40.50)" fill="url(#mDhead)"/>
<ellipse cx="449.70" cy="352.90" rx="4.00" ry="3.50" fill="url(#bB)"/>
<ellipse cx="467.90" cy="352.90" rx="2.00" ry="2.50" fill="url(#bB)"/>
<ellipse cx="529.20" cy="350.20" rx="2.00" ry="2.00" fill="url(#bB)"/>
<rect x="536.70" y="315.40" width="94.30" height="52.30" fill="url(#stripeD)"/>
<line x1="550.70" y1="356.90" x2="550.70" y2="367.70" stroke="#c4c4c4" stroke-width="1.4"/>
<polyline points="545.06,356.40 540.36,359.40 537.54,360.10" fill="none" stroke="#c8c8c8" stroke-width="1.2"/>
<polyline points="556.34,356.40 561.04,359.40 563.86,360.10" fill="none" stroke="#c8c8c8" stroke-width="1.2"/>
<use href="#mpD" transform="translate(550.70 318.40) scale(9.40 40.50)" fill="url(#mD)"/><use href="#mpD" transform="translate(550.70 318.40) scale(9.40 40.50)" fill="url(#mDhead)"/>
<line x1="573.60" y1="356.90" x2="573.60" y2="367.70" stroke="#c4c4c4" stroke-width="1.4"/>
<polyline points="567.96,356.40 563.26,359.40 560.44,360.10" fill="none" stroke="#c8c8c8" stroke-width="1.2"/>
<polyline points="579.24,356.40 583.94,359.40 586.76,360.10" fill="none" stroke="#c8c8c8" stroke-width="1.2"/>
<use href="#mpD" transform="translate(573.60 318.40) scale(9.40 40.50)" fill="url(#mD)"/><use href="#mpD" transform="translate(573.60 318.40) scale(9.40 40.50)" fill="url(#mDhead)"/>
<line x1="593.50" y1="356.90" x2="593.50" y2="367.70" stroke="#c4c4c4" stroke-width="1.4"/>
<polyline points="587.86,356.40 583.16,359.40 580.34,360.10" fill="none" stroke="#c8c8c8" stroke-width="1.2"/>
<polyline points="599.14,356.40 603.84,359.40 606.66,360.10" fill="none" stroke="#c8c8c8" stroke-width="1.2"/>
<use href="#mpD" transform="translate(593.50 318.40) scale(9.40 40.50)" fill="url(#mD)"/><use href="#mpD" transform="translate(593.50 318.40) scale(9.40 40.50)" fill="url(#mDhead)"/>
<line x1="617.00" y1="356.90" x2="617.00" y2="367.70" stroke="#c4c4c4" stroke-width="1.4"/>
<polyline points="611.36,356.40 606.66,359.40 603.84,360.10" fill="none" stroke="#c8c8c8" stroke-width="1.2"/>
<polyline points="622.64,356.40 627.34,359.40 630.16,360.10" fill="none" stroke="#c8c8c8" stroke-width="1.2"/>
<use href="#mpD" transform="translate(617.00 318.40) scale(9.40 40.50)" fill="url(#mD)"/><use href="#mpD" transform="translate(617.00 318.40) scale(9.40 40.50)" fill="url(#mDhead)"/>
<rect x="440.20" y="370.20" width="92.70" height="56.90" fill="url(#stripeD)"/>
<line x1="453.30" y1="414.20" x2="453.30" y2="427.10" stroke="#c4c4c4" stroke-width="1.4"/>
<polyline points="447.66,413.70 442.96,416.70 440.14,417.40" fill="none" stroke="#c8c8c8" stroke-width="1.2"/>
<polyline points="458.94,413.70 463.64,416.70 466.46,417.40" fill="none" stroke="#c8c8c8" stroke-width="1.2"/>
<use href="#mpD" transform="translate(453.30 374.20) scale(9.40 42.00)" fill="url(#mD)"/><use href="#mpD" transform="translate(453.30 374.20) scale(9.40 42.00)" fill="url(#mDhead)"/>
<line x1="476.20" y1="414.20" x2="476.20" y2="427.10" stroke="#3030c0" stroke-width="1.6"/>
<path d="M481.2760,370.2000 C483.5320,370.5133 483.8140,371.1400 484.6600,372.0800 C485.5060,373.0200 485.9948,373.8033 486.3520,375.8400 C486.7092,377.8767 486.6904,381.3233 486.8032,384.3000 C486.9160,387.2767 486.9160,390.5667 487.0288,393.7000 C487.1416,396.8333 487.4988,400.3583 487.4800,403.1000 C487.4612,405.8417 487.4424,408.1917 486.9160,410.1500 C486.3896,412.1083 485.4496,413.6750 484.3216,414.8500 C483.1936,416.0250 482.8552,417.2000 480.1480,417.2000 C477.4408,417.2000 470.5224,416.0250 468.0784,414.8500 C465.6344,413.6750 466.0104,412.1083 465.4840,410.1500 C464.9576,408.1917 464.9388,405.8417 464.9200,403.1000 C464.9012,400.3583 465.2584,396.8333 465.3712,393.7000 C465.4840,390.5667 465.4840,387.2767 465.5968,384.3000 C465.7096,381.3233 465.6908,377.8767 466.0480,375.8400 C466.4052,373.8033 466.8940,373.0200 467.7400,372.0800 C468.5860,371.1400 468.8680,370.5133 471.1240,370.2000 C473.3800,369.8867 479.0200,369.8867 481.2760,370.2000Z" fill="url(#bB)"/>
<ellipse cx="476.20" cy="382.60" rx="6.00" ry="5.00" fill="url(#bHot)"/>
<ellipse cx="476.70" cy="404.50" rx="5.00" ry="4.00" fill="url(#bCyan)"/>
<line x1="498.60" y1="414.20" x2="498.60" y2="427.10" stroke="#c4c4c4" stroke-width="1.4"/>
<polyline points="492.96,413.70 488.26,416.70 485.44,417.40" fill="none" stroke="#c8c8c8" stroke-width="1.2"/>
<polyline points="504.24,413.70 508.94,416.70 511.76,417.40" fill="none" stroke="#c8c8c8" stroke-width="1.2"/>
<use href="#mpD" transform="translate(498.60 374.20) scale(9.40 42.00)" fill="url(#mD)"/><use href="#mpD" transform="translate(498.60 374.20) scale(9.40 42.00)" fill="url(#mDhead)"/>
<line x1="519.80" y1="414.20" x2="519.80" y2="427.10" stroke="#c4c4c4" stroke-width="1.4"/>
<polyline points="514.16,413.70 509.46,416.70 506.64,417.40" fill="none" stroke="#c8c8c8" stroke-width="1.2"/>
<polyline points="525.44,413.70 530.14,416.70 532.96,417.40" fill="none" stroke="#c8c8c8" stroke-width="1.2"/>
<use href="#mpD" transform="translate(519.80 374.20) scale(9.40 42.00)" fill="url(#mD)"/><use href="#mpD" transform="translate(519.80 374.20) scale(9.40 42.00)" fill="url(#mDhead)"/>
<ellipse cx="457.00" cy="387.00" rx="5.00" ry="2.80" fill="url(#bB)" transform="rotate(20 457.0 387.0)"/>
<ellipse cx="451.90" cy="397.20" rx="1.50" ry="1.50" fill="url(#bB)"/>
<ellipse cx="458.40" cy="395.70" rx="1.20" ry="1.20" fill="url(#bB)"/>
<ellipse cx="447.00" cy="385.00" rx="1.20" ry="1.20" fill="url(#bB)"/>
<ellipse cx="496.40" cy="385.50" rx="4.00" ry="2.50" fill="url(#bB)"/>
<ellipse cx="492.00" cy="405.20" rx="2.00" ry="2.00" fill="url(#bB)"/>
<ellipse cx="519.80" cy="385.50" rx="3.50" ry="3.00" fill="url(#bB)"/>
<ellipse cx="523.40" cy="412.50" rx="3.00" ry="3.00" fill="url(#bB)"/>
<rect x="536.60" y="370.60" width="94.50" height="56.50" fill="url(#stripeD)"/>
<line x1="549.30" y1="414.60" x2="549.30" y2="427.10" stroke="#c4c4c4" stroke-width="1.4"/>
<polyline points="543.66,414.10 538.96,417.10 536.14,417.80" fill="none" stroke="#c8c8c8" stroke-width="1.2"/>
<polyline points="554.94,414.10 559.64,417.10 562.46,417.80" fill="none" stroke="#c8c8c8" stroke-width="1.2"/>
<use href="#mpD" transform="translate(549.30 374.60) scale(9.40 42.00)" fill="url(#mD)"/><use href="#mpD" transform="translate(549.30 374.60) scale(9.40 42.00)" fill="url(#mDhead)"/>
<line x1="572.70" y1="414.60" x2="572.70" y2="427.10" stroke="#c4c4c4" stroke-width="1.4"/>
<polyline points="567.06,414.10 562.36,417.10 559.54,417.80" fill="none" stroke="#c8c8c8" stroke-width="1.2"/>
<polyline points="578.34,414.10 583.04,417.10 585.86,417.80" fill="none" stroke="#c8c8c8" stroke-width="1.2"/>
<use href="#mpD" transform="translate(572.70 374.60) scale(9.40 42.00)" fill="url(#mD)"/><use href="#mpD" transform="translate(572.70 374.60) scale(9.40 42.00)" fill="url(#mDhead)"/>
<line x1="596.80" y1="414.60" x2="596.80" y2="427.10" stroke="#c4c4c4" stroke-width="1.4"/>
<polyline points="591.16,414.10 586.46,417.10 583.64,417.80" fill="none" stroke="#c8c8c8" stroke-width="1.2"/>
<polyline points="602.44,414.10 607.14,417.10 609.96,417.80" fill="none" stroke="#c8c8c8" stroke-width="1.2"/>
<use href="#mpD" transform="translate(596.80 374.60) scale(9.40 42.00)" fill="url(#mD)"/><use href="#mpD" transform="translate(596.80 374.60) scale(9.40 42.00)" fill="url(#mDhead)"/>
<line x1="618.70" y1="414.60" x2="618.70" y2="427.10" stroke="#c4c4c4" stroke-width="1.4"/>
<polyline points="613.06,414.10 608.36,417.10 605.54,417.80" fill="none" stroke="#c8c8c8" stroke-width="1.2"/>
<polyline points="624.34,414.10 629.04,417.10 631.86,417.80" fill="none" stroke="#c8c8c8" stroke-width="1.2"/>
<use href="#mpD" transform="translate(618.70 374.60) scale(9.40 42.00)" fill="url(#mD)"/><use href="#mpD" transform="translate(618.70 374.60) scale(9.40 42.00)" fill="url(#mDhead)"/>
<ellipse cx="550.10" cy="383.30" rx="6.50" ry="6.00" fill="url(#bB)"/>
<ellipse cx="572.70" cy="395.00" rx="7.50" ry="5.50" fill="url(#bB)" transform="rotate(35 572.7 395.0)"/>
<ellipse cx="589.20" cy="409.60" rx="3.50" ry="5.00" fill="url(#bB)"/>
<rect x="636.80" y="311.40" width="8.00" height="116.30" fill="url(#cbar)"/>
<text x="647.2" y="317.0" font-size="7.0" text-anchor="start" fill="#000">1.0</text>
<text x="647.2" y="338.7" font-size="7.0" text-anchor="start" fill="#000">0.8</text>
<text x="647.2" y="362.1" font-size="7.0" text-anchor="start" fill="#000">0.6</text>
<text x="647.2" y="383.8" font-size="7.0" text-anchor="start" fill="#000">0.4</text>
<text x="647.2" y="406.2" font-size="7.0" text-anchor="start" fill="#000">0.2</text>
<text x="647.2" y="427.1" font-size="7.0" text-anchor="start" fill="#000">0.0</text>
<text x="656.0" y="373.5" font-size="7.0" text-anchor="start" fill="#000">X 10<tspan font-size="4.5" dy="-2.5">8</tspan></text>
<text x="481.6" y="464.9" font-size="18.3" text-anchor="start" fill="#000" font-weight="bold">F</text>
<line x1="559.30" y1="471.50" x2="559.30" y2="647.00" stroke="#000" stroke-width="1.6"/>
<line x1="558.60" y1="646.30" x2="676.00" y2="646.30" stroke="#000" stroke-width="1.6"/>
<line x1="552.30" y1="472.20" x2="559.30" y2="472.20" stroke="#000" stroke-width="1.5"/>
<text x="551.0" y="477.2" font-size="13" text-anchor="end" fill="#000" letter-spacing="0.4">2×10<tspan font-size="8.3" dy="-3.7">9</tspan></text>
<line x1="552.30" y1="515.72" x2="559.30" y2="515.72" stroke="#000" stroke-width="1.5"/>
<text x="551.0" y="520.7" font-size="13" text-anchor="end" fill="#000" letter-spacing="0.4">1.5×10<tspan font-size="8.3" dy="-3.7">9</tspan></text>
<line x1="552.30" y1="559.25" x2="559.30" y2="559.25" stroke="#000" stroke-width="1.5"/>
<text x="551.0" y="564.2" font-size="13" text-anchor="end" fill="#000" letter-spacing="0.4">1×10<tspan font-size="8.3" dy="-3.7">9</tspan></text>
<line x1="552.30" y1="602.77" x2="559.30" y2="602.77" stroke="#000" stroke-width="1.5"/>
<text x="551.0" y="607.8" font-size="13" text-anchor="end" fill="#000" letter-spacing="0.4">5×10<tspan font-size="8.3" dy="-3.7">8</tspan></text>
<line x1="552.30" y1="646.30" x2="559.30" y2="646.30" stroke="#000" stroke-width="1.5"/>
<text x="551.0" y="651.3" font-size="13" text-anchor="end" fill="#000">0</text>
<line x1="576.80" y1="646.30" x2="576.80" y2="652.80" stroke="#000" stroke-width="1.5"/>
<text x="581.3" y="665.2" font-size="12.0" text-anchor="end" fill="#000" transform="rotate(-45 581.3 665.2)">Vehicle</text>
<line x1="603.40" y1="646.30" x2="603.40" y2="652.80" stroke="#000" stroke-width="1.5"/>
<text x="607.9" y="665.2" font-size="12.0" text-anchor="end" fill="#000" transform="rotate(-45 607.9 665.2)">NTX(2.0mpk)</text>
<line x1="630.00" y1="646.30" x2="630.00" y2="652.80" stroke="#000" stroke-width="1.5"/>
<text x="634.5" y="665.2" font-size="12.0" text-anchor="end" fill="#000" transform="rotate(-45 634.5 665.2)">NTX(1.0mpk x2)</text>
<line x1="656.60" y1="646.30" x2="656.60" y2="652.80" stroke="#000" stroke-width="1.5"/>
<text x="661.1" y="665.2" font-size="12.0" text-anchor="end" fill="#000" transform="rotate(-45 661.1 665.2)">NTX(1.0mpk)</text>
<text x="496.6" y="559.0" font-size="14.3" text-anchor="middle" fill="#000" transform="rotate(-90 496.6 559.0)">In vivo luciferase activity</text>
<circle cx="576.70" cy="515.70" r="3.1" fill="#a6a6a6"/>
<circle cx="571.30" cy="569.30" r="3.1" fill="#a6a6a6"/>
<circle cx="582.70" cy="573.80" r="3.1" fill="#a6a6a6"/>
<circle cx="576.70" cy="585.80" r="3.1" fill="#a6a6a6"/>
<line x1="568.30" y1="571.70" x2="585.40" y2="571.70" stroke="#000" stroke-width="2.0"/>
<polygon points="597.90,634.60 601.10,637.80 597.90,641.00 594.70,637.80" fill="#f0a6e6"/>
<polygon points="601.50,637.30 604.70,640.50 601.50,643.70 598.30,640.50" fill="#f0a6e6"/>
<polygon points="605.50,639.20 608.70,642.40 605.50,645.60 602.30,642.40" fill="#f0a6e6"/>
<polygon points="609.50,637.80 612.70,641.00 609.50,644.20 606.30,641.00" fill="#f0a6e6"/>
<polygon points="598.50,641.80 601.70,645.00 598.50,648.20 595.30,645.00" fill="#f0a6e6"/>
<line x1="595.20" y1="640.50" x2="611.70" y2="640.50" stroke="#000" stroke-width="2.0"/>
<text x="601.2" y="616.5" font-size="20.5" text-anchor="middle" fill="#f048d8" font-weight="bold" letter-spacing="1.1">*</text>
<text x="597.8" y="625.3" font-size="11.6" text-anchor="middle" fill="#f048d8"><tspan font-style="italic">P</tspan>=0.014</text>
<polygon points="629.70,559.74 633.00,565.68 626.40,565.68" fill="#a41ee6"/>
<polygon points="629.70,617.54 633.00,623.48 626.40,623.48" fill="#a41ee6"/>
<polygon points="625.20,628.04 628.50,633.98 621.90,633.98" fill="#a41ee6"/>
<polygon points="635.60,632.44 638.90,638.38 632.30,638.38" fill="#a41ee6"/>
<polygon points="629.70,641.44 633.00,647.38 626.40,647.38" fill="#a41ee6"/>
<line x1="620.70" y1="631.60" x2="638.60" y2="631.60" stroke="#000" stroke-width="2.0"/>
<text x="629.7" y="543.8" font-size="20.5" text-anchor="middle" fill="#6a30b8" font-weight="bold" letter-spacing="1.1">*</text>
<text x="630.0" y="552.6" font-size="11.6" text-anchor="middle" fill="#7036c8"><tspan font-style="italic">P</tspan>=0.031</text>
<polygon points="656.60,613.56 659.90,607.62 653.30,607.62" fill="#ff1010"/>
<polygon points="656.60,623.16 659.90,617.22 653.30,617.22" fill="#ff1010"/>
<polygon points="651.20,637.56 654.50,631.62 647.90,631.62" fill="#ff1010"/>
<polygon points="662.00,642.56 665.30,636.62 658.70,636.62" fill="#ff1010"/>
<polygon points="651.20,648.56 654.50,642.62 647.90,642.62" fill="#ff1010"/>
<line x1="648.20" y1="635.20" x2="665.00" y2="635.20" stroke="#000" stroke-width="2.0"/>
<text x="655.1" y="591.1" font-size="20.5" text-anchor="middle" fill="#ff1010" font-weight="bold" letter-spacing="1.1">*</text>
<text x="655.8" y="599.8" font-size="11.6" text-anchor="middle" fill="#ff1010"><tspan font-style="italic">P</tspan>=0.015</text>
<text x="-0.5" y="746.8" font-size="18.3" text-anchor="start" fill="#000" font-weight="bold">G</text>
<line x1="62.00" y1="769.80" x2="62.00" y2="926.90" stroke="#000" stroke-width="1.6"/>
<line x1="61.30" y1="926.20" x2="297.20" y2="926.20" stroke="#000" stroke-width="1.6"/>
<line x1="56.00" y1="926.20" x2="62.00" y2="926.20" stroke="#000" stroke-width="1.5"/>
<text x="53.8" y="930.4" font-size="11.6" text-anchor="end" fill="#000">0</text>
<line x1="56.00" y1="874.30" x2="62.00" y2="874.30" stroke="#000" stroke-width="1.5"/>
<text x="53.8" y="878.5" font-size="11.6" text-anchor="end" fill="#000">1000</text>
<line x1="56.00" y1="822.40" x2="62.00" y2="822.40" stroke="#000" stroke-width="1.5"/>
<text x="53.8" y="826.6" font-size="11.6" text-anchor="end" fill="#000">2000</text>
<line x1="56.00" y1="770.50" x2="62.00" y2="770.50" stroke="#000" stroke-width="1.5"/>
<text x="53.8" y="774.7" font-size="11.6" text-anchor="end" fill="#000">3000</text>
<line x1="79.00" y1="926.20" x2="79.00" y2="932.00" stroke="#000" stroke-width="1.5"/>
<text x="79.0" y="945.3" font-size="11.5" text-anchor="middle" fill="#000">4</text>
<line x1="112.90" y1="926.20" x2="112.90" y2="932.00" stroke="#000" stroke-width="1.5"/>
<text x="112.9" y="945.3" font-size="11.5" text-anchor="middle" fill="#000">6</text>
<line x1="145.80" y1="926.20" x2="145.80" y2="932.00" stroke="#000" stroke-width="1.5"/>
<text x="145.8" y="945.3" font-size="11.5" text-anchor="middle" fill="#000">8</text>
<line x1="179.30" y1="926.20" x2="179.30" y2="932.00" stroke="#000" stroke-width="1.5"/>
<text x="179.3" y="945.3" font-size="11.5" text-anchor="middle" fill="#000">11</text>
<line x1="213.30" y1="926.20" x2="213.30" y2="932.00" stroke="#000" stroke-width="1.5"/>
<text x="213.3" y="945.3" font-size="11.5" text-anchor="middle" fill="#000">15</text>
<line x1="246.90" y1="926.20" x2="246.90" y2="932.00" stroke="#000" stroke-width="1.5"/>
<text x="246.9" y="945.3" font-size="11.5" text-anchor="middle" fill="#000">18</text>
<line x1="279.70" y1="926.20" x2="279.70" y2="932.00" stroke="#000" stroke-width="1.5"/>
<text x="279.7" y="945.3" font-size="11.5" text-anchor="middle" fill="#000">20</text>
<text x="179.7" y="965.0" font-size="12.8" text-anchor="middle" fill="#000">Days</text>
<text x="20.7" y="848.0" font-size="12.8" text-anchor="middle" fill="#000" transform="rotate(-90 20.7 848.0)">Tumor volume (mm<tspan font-size="8.5" dy="-5">3</tspan><tspan dy="5">)</tspan></text>
<line x1="246.90" y1="899.30" x2="246.90" y2="908.40" stroke="#1010ff" stroke-width="1.1"/>
<line x1="243.70" y1="899.30" x2="250.10" y2="899.30" stroke="#1010ff" stroke-width="1.1"/>
<line x1="279.70" y1="889.00" x2="279.70" y2="905.80" stroke="#1010ff" stroke-width="1.1"/>
<line x1="276.50" y1="889.00" x2="282.90" y2="889.00" stroke="#1010ff" stroke-width="1.1"/>
<line x1="213.30" y1="874.80" x2="213.30" y2="897.10" stroke="#20c020" stroke-width="1.1"/>
<line x1="210.10" y1="874.80" x2="216.50" y2="874.80" stroke="#20c020" stroke-width="1.1"/>
<line x1="246.90" y1="873.00" x2="246.90" y2="889.80" stroke="#20c020" stroke-width="1.1"/>
<line x1="243.70" y1="873.00" x2="250.10" y2="873.00" stroke="#20c020" stroke-width="1.1"/>
<line x1="279.70" y1="849.00" x2="279.70" y2="876.30" stroke="#20c020" stroke-width="1.1"/>
<line x1="276.50" y1="849.00" x2="282.90" y2="849.00" stroke="#20c020" stroke-width="1.1"/>
<line x1="179.30" y1="903.00" x2="179.30" y2="914.20" stroke="#ff2020" stroke-width="1.1"/>
<line x1="176.10" y1="903.00" x2="182.50" y2="903.00" stroke="#ff2020" stroke-width="1.1"/>
<line x1="213.30" y1="889.00" x2="213.30" y2="901.10" stroke="#ff2020" stroke-width="1.1"/>
<line x1="210.10" y1="889.00" x2="216.50" y2="889.00" stroke="#ff2020" stroke-width="1.1"/>
<line x1="246.90" y1="884.00" x2="246.90" y2="902.60" stroke="#ff2020" stroke-width="1.1"/>
<line x1="243.70" y1="884.00" x2="250.10" y2="884.00" stroke="#ff2020" stroke-width="1.1"/>
<line x1="279.70" y1="866.40" x2="279.70" y2="899.60" stroke="#ff2020" stroke-width="1.1"/>
<line x1="276.50" y1="866.40" x2="282.90" y2="866.40" stroke="#ff2020" stroke-width="1.1"/>
<line x1="145.80" y1="915.00" x2="145.80" y2="919.70" stroke="#555" stroke-width="1.1"/>
<line x1="142.60" y1="915.00" x2="149.00" y2="915.00" stroke="#555" stroke-width="1.1"/>
<line x1="179.30" y1="902.20" x2="179.30" y2="911.30" stroke="#555" stroke-width="1.1"/>
<line x1="176.10" y1="902.20" x2="182.50" y2="902.20" stroke="#555" stroke-width="1.1"/>
<line x1="213.30" y1="862.00" x2="213.30" y2="885.00" stroke="#555" stroke-width="1.1"/>
<line x1="210.10" y1="862.00" x2="216.50" y2="862.00" stroke="#555" stroke-width="1.1"/>
<line x1="246.90" y1="832.10" x2="246.90" y2="871.20" stroke="#555" stroke-width="1.1"/>
<line x1="243.70" y1="832.10" x2="250.10" y2="832.10" stroke="#555" stroke-width="1.1"/>
<line x1="279.70" y1="795.00" x2="279.70" y2="848.50" stroke="#555" stroke-width="1.1"/>
<line x1="276.50" y1="795.00" x2="282.90" y2="795.00" stroke="#555" stroke-width="1.1"/>
<polyline points="79.00,923.50 112.90,923.50 145.80,920.00 179.30,917.50 213.30,916.40 246.90,916.40 279.70,917.50" fill="none" stroke="#ff8010" stroke-width="1.2"/>
<circle cx="79.00" cy="923.50" r="3.2" fill="#ff8010"/>
<circle cx="112.90" cy="923.50" r="3.2" fill="#ff8010"/>
<circle cx="145.80" cy="920.00" r="3.2" fill="#ff8010"/>
<circle cx="179.30" cy="917.50" r="3.2" fill="#ff8010"/>
<circle cx="213.30" cy="916.40" r="3.2" fill="#ff8010"/>
<circle cx="246.90" cy="916.40" r="3.2" fill="#ff8010"/>
<circle cx="279.70" cy="917.50" r="3.2" fill="#ff8010"/>
<polyline points="79.00,923.50 112.90,923.50 145.80,920.00 179.30,916.00 213.30,911.30 246.90,908.40 279.70,905.80" fill="none" stroke="#1010ff" stroke-width="1.2"/>
<circle cx="79.00" cy="923.50" r="3.2" fill="#1010ff"/>
<circle cx="112.90" cy="923.50" r="3.2" fill="#1010ff"/>
<circle cx="145.80" cy="920.00" r="3.2" fill="#1010ff"/>
<circle cx="179.30" cy="916.00" r="3.2" fill="#1010ff"/>
<circle cx="213.30" cy="911.30" r="3.2" fill="#1010ff"/>
<circle cx="246.90" cy="908.40" r="3.2" fill="#1010ff"/>
<circle cx="279.70" cy="905.80" r="3.2" fill="#1010ff"/>
<polyline points="79.00,923.50 112.90,923.50 145.80,920.00 179.30,913.10 213.30,897.10 246.90,889.80 279.70,876.30" fill="none" stroke="#20c020" stroke-width="1.2"/>
<circle cx="79.00" cy="923.50" r="3.2" fill="#20c020"/>
<circle cx="112.90" cy="923.50" r="3.2" fill="#20c020"/>
<circle cx="145.80" cy="920.00" r="3.2" fill="#20c020"/>
<circle cx="179.30" cy="913.10" r="3.2" fill="#20c020"/>
<circle cx="213.30" cy="897.10" r="3.2" fill="#20c020"/>
<circle cx="246.90" cy="889.80" r="3.2" fill="#20c020"/>
<circle cx="279.70" cy="876.30" r="3.2" fill="#20c020"/>
<polyline points="79.00,923.00 112.90,923.00 145.80,919.70 179.30,914.20 213.30,901.10 246.90,902.60 279.70,899.60" fill="none" stroke="#ff2020" stroke-width="1.2"/>
<circle cx="79.00" cy="923.00" r="3.2" fill="#ff2020"/>
<circle cx="112.90" cy="923.00" r="3.2" fill="#ff2020"/>
<circle cx="145.80" cy="919.70" r="3.2" fill="#ff2020"/>
<circle cx="179.30" cy="914.20" r="3.2" fill="#ff2020"/>
<circle cx="213.30" cy="901.10" r="3.2" fill="#ff2020"/>
<circle cx="246.90" cy="902.60" r="3.2" fill="#ff2020"/>
<circle cx="279.70" cy="899.60" r="3.2" fill="#ff2020"/>
<polyline points="79.00,924.10 112.90,924.10 145.80,919.70 179.30,911.30 213.30,885.00 246.90,871.20 279.70,848.50" fill="none" stroke="#000000" stroke-width="1.2"/>
<circle cx="79.00" cy="924.10" r="3.2" fill="#000000"/>
<circle cx="112.90" cy="924.10" r="3.2" fill="#000000"/>
<circle cx="145.80" cy="919.70" r="3.2" fill="#000000"/>
<circle cx="179.30" cy="911.30" r="3.2" fill="#000000"/>
<circle cx="213.30" cy="885.00" r="3.2" fill="#000000"/>
<circle cx="246.90" cy="871.20" r="3.2" fill="#000000"/>
<circle cx="279.70" cy="848.50" r="3.2" fill="#000000"/>
<polygon points="139.30,814.5 148.90,814.5 144.10,823.2" fill="#ff0a0a"/>
<rect x="142.30" y="811.30" width="3.60" height="4.00" fill="#ff0a0a"/>
<polygon points="149.57,814.5 159.17,814.5 154.37,823.2" fill="#ff0a0a"/>
<rect x="152.57" y="811.30" width="3.60" height="4.00" fill="#ff0a0a"/>
<polygon points="159.84,814.5 169.44,814.5 164.64,823.2" fill="#ff0a0a"/>
<rect x="162.84" y="811.30" width="3.60" height="4.00" fill="#ff0a0a"/>
<polygon points="170.11,814.5 179.71,814.5 174.91,823.2" fill="#ff0a0a"/>
<rect x="173.11" y="811.30" width="3.60" height="4.00" fill="#ff0a0a"/>
<polygon points="180.38,814.5 189.98,814.5 185.18,823.2" fill="#ff0a0a"/>
<rect x="183.38" y="811.30" width="3.60" height="4.00" fill="#ff0a0a"/>
<polygon points="203.20,814.5 212.80,814.5 208.00,823.2" fill="#ff0a0a"/>
<rect x="206.20" y="811.30" width="3.60" height="4.00" fill="#ff0a0a"/>
<polygon points="213.23,814.5 222.83,814.5 218.03,823.2" fill="#ff0a0a"/>
<rect x="216.23" y="811.30" width="3.60" height="4.00" fill="#ff0a0a"/>
<polygon points="223.26,814.5 232.86,814.5 228.06,823.2" fill="#ff0a0a"/>
<rect x="226.26" y="811.30" width="3.60" height="4.00" fill="#ff0a0a"/>
<polygon points="233.29,814.5 242.89,814.5 238.09,823.2" fill="#ff0a0a"/>
<rect x="236.29" y="811.30" width="3.60" height="4.00" fill="#ff0a0a"/>
<polygon points="243.32,814.5 252.92,814.5 248.12,823.2" fill="#ff0a0a"/>
<rect x="246.32" y="811.30" width="3.60" height="4.00" fill="#ff0a0a"/>
<line x1="66.60" y1="846.40" x2="83.70" y2="846.40" stroke="#000" stroke-width="1.2"/>
<circle cx="75.00" cy="846.40" r="3.0" fill="#000"/>
<text x="92.8" y="850.3" font-size="10.8" text-anchor="start" fill="#000">Vehicle</text>
<line x1="66.60" y1="859.45" x2="83.70" y2="859.45" stroke="#ff2020" stroke-width="1.2"/>
<circle cx="75.00" cy="859.45" r="3.0" fill="#ff2020"/>
<text x="92.8" y="863.3" font-size="10.8" text-anchor="start" fill="#000">NTX(0.2mpk)</text>
<line x1="66.60" y1="872.50" x2="83.70" y2="872.50" stroke="#20c020" stroke-width="1.2"/>
<circle cx="75.00" cy="872.50" r="3.0" fill="#20c020"/>
<text x="92.8" y="876.4" font-size="10.8" text-anchor="start" fill="#000">NTX(0.4mpk)</text>
<line x1="66.60" y1="885.55" x2="83.70" y2="885.55" stroke="#1010ff" stroke-width="1.2"/>
<circle cx="75.00" cy="885.55" r="3.0" fill="#1010ff"/>
<text x="92.8" y="889.4" font-size="10.8" text-anchor="start" fill="#000">NTX(0.8mpk)</text>
<line x1="66.60" y1="898.60" x2="83.70" y2="898.60" stroke="#ff8010" stroke-width="1.2"/>
<circle cx="75.00" cy="898.60" r="3.0" fill="#ff8010"/>
<text x="92.8" y="902.5" font-size="10.8" text-anchor="start" fill="#000">NTX(1.5mpk)</text>
<text x="296.6" y="746.8" font-size="18.3" text-anchor="start" fill="#000" font-weight="bold">H</text>
<line x1="378.30" y1="746.40" x2="378.30" y2="914.20" stroke="#000" stroke-width="1.6"/>
<line x1="377.60" y1="913.50" x2="488.70" y2="913.50" stroke="#000" stroke-width="1.6"/>
<line x1="371.30" y1="747.10" x2="378.30" y2="747.10" stroke="#000" stroke-width="1.5"/>
<text x="369.5" y="751.3" font-size="11.8" text-anchor="end" fill="#000" letter-spacing="0.35">1.5×10<tspan font-size="7.2" dy="-3.6">8</tspan></text>
<line x1="371.30" y1="802.57" x2="378.30" y2="802.57" stroke="#000" stroke-width="1.5"/>
<text x="369.5" y="806.8" font-size="11.8" text-anchor="end" fill="#000" letter-spacing="0.35">1×10<tspan font-size="7.2" dy="-3.6">8</tspan></text>
<line x1="371.30" y1="858.03" x2="378.30" y2="858.03" stroke="#000" stroke-width="1.5"/>
<text x="369.5" y="862.2" font-size="11.8" text-anchor="end" fill="#000" letter-spacing="0.35">5×10<tspan font-size="7.2" dy="-3.6">7</tspan></text>
<line x1="371.30" y1="913.50" x2="378.30" y2="913.50" stroke="#000" stroke-width="1.5"/>
<text x="369.5" y="917.7" font-size="11.8" text-anchor="end" fill="#000">0</text>
<line x1="391.20" y1="913.50" x2="391.20" y2="919.70" stroke="#000" stroke-width="1.5"/>
<text x="395.2" y="930.8" font-size="11.5" text-anchor="end" fill="#000" transform="rotate(-45 395.2 930.8)">Vehicle</text>
<line x1="412.00" y1="913.50" x2="412.00" y2="919.70" stroke="#000" stroke-width="1.5"/>
<text x="416.0" y="930.8" font-size="11.5" text-anchor="end" fill="#000" transform="rotate(-45 416.0 930.8)">NTX(0.2mpk)</text>
<line x1="432.50" y1="913.50" x2="432.50" y2="919.70" stroke="#000" stroke-width="1.5"/>
<text x="436.5" y="930.8" font-size="11.5" text-anchor="end" fill="#000" transform="rotate(-45 436.5 930.8)">NTX(0.4mpk)</text>
<line x1="453.40" y1="913.50" x2="453.40" y2="919.70" stroke="#000" stroke-width="1.5"/>
<text x="457.4" y="930.8" font-size="11.5" text-anchor="end" fill="#000" transform="rotate(-45 457.4 930.8)">NTX(0.8mpk)</text>
<line x1="474.00" y1="913.50" x2="474.00" y2="919.70" stroke="#000" stroke-width="1.5"/>
<text x="478.0" y="930.8" font-size="11.5" text-anchor="end" fill="#000" transform="rotate(-45 478.0 930.8)">NTX(1.5mpk)</text>
<text x="322.6" y="831.5" font-size="13.2" text-anchor="middle" fill="#000" transform="rotate(-90 322.6 831.5)">Cell number per g tumor</text>
<circle cx="391.20" cy="844.00" r="2.9" fill="#000"/>
<circle cx="391.20" cy="855.30" r="2.9" fill="#000"/>
<circle cx="387.50" cy="873.10" r="2.9" fill="#000"/>
<circle cx="395.80" cy="871.50" r="2.9" fill="#000"/>
<line x1="384.40" y1="863.60" x2="397.90" y2="863.60" stroke="#000" stroke-width="1.8"/>
<polygon points="412.00,785.10 415.40,788.50 412.00,791.90 408.60,788.50" fill="#ff1010"/>
<polygon points="408.00,869.40 411.40,872.80 408.00,876.20 404.60,872.80" fill="#ff1010"/>
<polygon points="416.30,869.40 419.70,872.80 416.30,876.20 412.90,872.80" fill="#ff1010"/>
<polygon points="412.00,896.30 415.40,899.70 412.00,903.10 408.60,899.70" fill="#ff1010"/>
<line x1="405.00" y1="872.80" x2="418.80" y2="872.80" stroke="#000" stroke-width="1.8"/>
<polygon points="432.80,871.93 436.20,878.05 429.40,878.05" fill="#18c030"/>
<polygon points="436.50,879.93 439.90,886.05 433.10,886.05" fill="#18c030"/>
<polygon points="429.20,884.33 432.60,890.45 425.80,890.45" fill="#18c030"/>
<polygon points="429.20,892.33 432.60,898.45 425.80,898.45" fill="#18c030"/>
<polygon points="436.50,895.23 439.90,901.35 433.10,901.35" fill="#18c030"/>
<polygon points="429.20,900.33 432.60,906.45 425.80,906.45" fill="#18c030"/>
<line x1="424.90" y1="891.70" x2="440.20" y2="891.70" stroke="#000" stroke-width="1.8"/>
<text x="432.8" y="830.3" font-size="19.5" text-anchor="middle" fill="#20b050" font-weight="bold" letter-spacing="1.1">*</text>
<text x="434.0" y="836.9" font-size="11.4" text-anchor="middle" fill="#20b050"><tspan font-style="italic">P</tspan>=0.014</text>
<polygon points="449.60,904.37 453.00,898.25 446.20,898.25" fill="#1414f0"/>
<polygon points="456.20,904.37 459.60,898.25 452.80,898.25" fill="#1414f0"/>
<polygon points="452.90,904.37 456.30,898.25 449.50,898.25" fill="#1414f0"/>
<polygon points="449.60,912.27 453.00,906.15 446.20,906.15" fill="#1414f0"/>
<polygon points="456.20,912.27 459.60,906.15 452.80,906.15" fill="#1414f0"/>
<line x1="446.30" y1="905.90" x2="460.50" y2="905.90" stroke="#000" stroke-width="1.8"/>
<text x="452.9" y="860.6" font-size="19.5" text-anchor="middle" fill="#2828f0" font-weight="bold" letter-spacing="1.1">*</text>
<text x="454.4" y="865.5" font-size="11.4" text-anchor="middle" fill="#2828f0"><tspan font-style="italic">P</tspan>=0.0061</text>
<circle cx="474.50" cy="901.50" r="3.0" fill="#f8a050"/>
<circle cx="470.00" cy="908.80" r="3.0" fill="#f8a050"/>
<circle cx="474.50" cy="908.00" r="3.0" fill="#f8a050"/>
<circle cx="478.80" cy="911.00" r="3.0" fill="#f8a050"/>
<circle cx="477.00" cy="907.00" r="3.0" fill="#f8a050"/>
<circle cx="471.50" cy="911.20" r="3.0" fill="#f8a050"/>
<line x1="467.00" y1="908.30" x2="481.00" y2="908.30" stroke="#000" stroke-width="1.8"/>
<text x="475.6" y="889.6" font-size="19.5" text-anchor="middle" fill="#c89a28" font-weight="bold" letter-spacing="1.1">*</text>
<text x="450.6" y="894.6" font-size="11.4" text-anchor="start" fill="#c89a28"><tspan font-style="italic">P</tspan>=0.0055</text>
<text x="502.7" y="747.3" font-size="18.3" text-anchor="start" fill="#000" font-weight="bold">I</text>
<line x1="564.50" y1="745.10" x2="564.50" y2="915.20" stroke="#000" stroke-width="1.6"/>
<line x1="563.80" y1="914.50" x2="676.70" y2="914.50" stroke="#000" stroke-width="1.6"/>
<line x1="558.50" y1="914.50" x2="564.50" y2="914.50" stroke="#000" stroke-width="1.5"/>
<text x="555.8" y="919.2" font-size="13" text-anchor="end" fill="#000">10</text>
<line x1="558.50" y1="872.33" x2="564.50" y2="872.33" stroke="#000" stroke-width="1.5"/>
<text x="555.8" y="877.0" font-size="13" text-anchor="end" fill="#000">20</text>
<line x1="558.50" y1="830.15" x2="564.50" y2="830.15" stroke="#000" stroke-width="1.5"/>
<text x="555.8" y="834.9" font-size="13" text-anchor="end" fill="#000">30</text>
<line x1="558.50" y1="787.97" x2="564.50" y2="787.97" stroke="#000" stroke-width="1.5"/>
<text x="555.8" y="792.7" font-size="13" text-anchor="end" fill="#000">40</text>
<line x1="558.50" y1="745.80" x2="564.50" y2="745.80" stroke="#000" stroke-width="1.5"/>
<text x="555.8" y="750.5" font-size="13" text-anchor="end" fill="#000">50</text>
<line x1="578.30" y1="914.50" x2="578.30" y2="920.70" stroke="#000" stroke-width="1.5"/>
<text x="582.3" y="930.3" font-size="12.0" text-anchor="end" fill="#000" transform="rotate(-45 582.3 930.3)">Vehicle</text>
<line x1="599.20" y1="914.50" x2="599.20" y2="920.70" stroke="#000" stroke-width="1.5"/>
<text x="603.2" y="930.3" font-size="12.0" text-anchor="end" fill="#000" transform="rotate(-45 603.2 930.3)">NTX(0.2mpk)</text>
<line x1="620.00" y1="914.50" x2="620.00" y2="920.70" stroke="#000" stroke-width="1.5"/>
<text x="624.0" y="930.3" font-size="12.0" text-anchor="end" fill="#000" transform="rotate(-45 624.0 930.3)">NTX(0.4mpk)</text>
<line x1="641.20" y1="914.50" x2="641.20" y2="920.70" stroke="#000" stroke-width="1.5"/>
<text x="645.2" y="930.3" font-size="12.0" text-anchor="end" fill="#000" transform="rotate(-45 645.2 930.3)">NTX(0.8mpk)</text>
<line x1="662.00" y1="914.50" x2="662.00" y2="920.70" stroke="#000" stroke-width="1.5"/>
<text x="666.0" y="930.3" font-size="12.0" text-anchor="end" fill="#000" transform="rotate(-45 666.0 930.3)">NTX(1.5mpk)</text>
<text x="517.2" y="822.4" font-size="12.4" text-anchor="middle" fill="#000" transform="rotate(-90 517.2 822.4)">Geometric mean of</text>
<text x="531.7" y="822.4" font-size="12.4" text-anchor="middle" fill="#000" transform="rotate(-90 531.7 822.4)">anti-CD33 intensity</text>
<circle cx="574.60" cy="787.80" r="3.0" fill="#000"/>
<circle cx="581.70" cy="783.20" r="3.0" fill="#000"/>
<circle cx="581.70" cy="792.40" r="3.0" fill="#000"/>
<circle cx="574.60" cy="797.00" r="3.0" fill="#000"/>
<line x1="571.00" y1="789.40" x2="585.40" y2="789.40" stroke="#000" stroke-width="1.8"/>
<polygon points="595.50,801.80 599.00,805.30 595.50,808.80 592.00,805.30" fill="#ff1010"/>
<polygon points="603.10,801.80 606.60,805.30 603.10,808.80 599.60,805.30" fill="#ff1010"/>
<polygon points="595.50,817.10 599.00,820.60 595.50,824.10 592.00,820.60" fill="#ff1010"/>
<polygon points="603.10,817.10 606.60,820.60 603.10,824.10 599.60,820.60" fill="#ff1010"/>
<line x1="592.10" y1="812.40" x2="606.20" y2="812.40" stroke="#000" stroke-width="1.8"/>
<text x="596.1" y="760.5" font-size="18" text-anchor="middle" fill="#ff1010" font-weight="bold" letter-spacing="1.1">*</text>
<text x="600.4" y="769.9" font-size="11.4" text-anchor="middle" fill="#ff1010"><tspan font-style="italic">P</tspan>=0.0075</text>
<polygon points="619.30,814.52 622.80,820.82 615.80,820.82" fill="#18c030"/>
<polygon points="623.50,817.72 627.00,824.02 620.00,824.02" fill="#18c030"/>
<polygon points="616.50,819.22 620.00,825.52 613.00,825.52" fill="#18c030"/>
<polygon points="621.00,819.72 624.50,826.02 617.50,826.02" fill="#18c030"/>
<polygon points="619.30,832.42 622.80,838.72 615.80,838.72" fill="#18c030"/>
<polygon points="619.80,848.22 623.30,854.52 616.30,854.52" fill="#18c030"/>
<line x1="612.30" y1="823.70" x2="626.70" y2="823.70" stroke="#000" stroke-width="1.8"/>
<text x="618.5" y="792.4" font-size="18" text-anchor="middle" fill="#20b050" font-weight="bold" letter-spacing="1.1">**</text>
<text x="626.3" y="800.2" font-size="11.4" text-anchor="middle" fill="#20b050"><tspan font-style="italic">P</tspan>=0.0003</text>
<polygon points="641.20,830.38 644.70,824.08 637.70,824.08" fill="#1414f0"/>
<polygon points="636.80,838.28 640.30,831.98 633.30,831.98" fill="#1414f0"/>
<polygon points="644.70,839.08 648.20,832.78 641.20,832.78" fill="#1414f0"/>
<polygon points="640.50,842.28 644.00,835.98 637.00,835.98" fill="#1414f0"/>
<polygon points="644.70,849.58 648.20,843.28 641.20,843.28" fill="#1414f0"/>
<polygon points="636.80,853.98 640.30,847.68 633.30,847.68" fill="#1414f0"/>
<line x1="633.80" y1="838.40" x2="648.20" y2="838.40" stroke="#000" stroke-width="1.8"/>
<text x="641.5" y="872.8" font-size="18" text-anchor="middle" fill="#2828f0" font-weight="bold" letter-spacing="1.1">***</text>
<text x="634.5" y="879.9" font-size="11.4" text-anchor="middle" fill="#2828f0"><tspan font-style="italic">P</tspan>&lt;0.0001</text>
<circle cx="662.00" cy="777.10" r="2.9" fill="#f8a050"/>
<circle cx="662.00" cy="831.70" r="2.9" fill="#f8a050"/>
<circle cx="657.40" cy="859.90" r="2.9" fill="#f8a050"/>
<circle cx="662.60" cy="861.40" r="2.9" fill="#f8a050"/>
<circle cx="667.50" cy="859.90" r="2.9" fill="#f8a050"/>
<circle cx="662.00" cy="876.70" r="2.9" fill="#f8a050"/>
<line x1="659.00" y1="859.90" x2="668.70" y2="859.90" stroke="#000" stroke-width="1.8"/>
<text x="662.6" y="899.7" font-size="18" text-anchor="middle" fill="#c89a28" font-weight="bold" letter-spacing="1.1">*</text>
<text x="642.0" y="906.9" font-size="11.4" text-anchor="start" fill="#d0782a"><tspan font-style="italic">P</tspan>=0.013</text>
</svg></body></html>
